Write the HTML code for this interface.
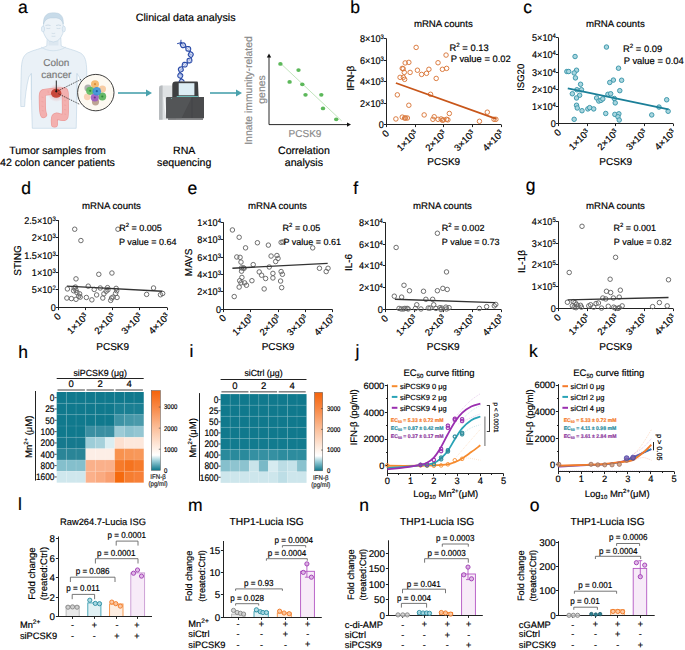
<!DOCTYPE html>
<html><head><meta charset="utf-8"><style>
html,body{margin:0;padding:0;background:#fff;}
svg{display:block;font-family:"Liberation Sans", sans-serif;text-rendering:geometricPrecision;}
</style></head><body>
<svg width="685" height="650" viewBox="0 0 685 650">
<rect width="685" height="650" fill="#fff"/>
<text x="18.00" y="12.50" font-size="17.5" text-anchor="start" fill="#000" stroke="#000" stroke-width="0.18">a</text>
<text x="350.30" y="12.50" font-size="17.5" text-anchor="start" fill="#000" stroke="#000" stroke-width="0.18">b</text>
<text x="523.30" y="12.50" font-size="17.5" text-anchor="start" fill="#000" stroke="#000" stroke-width="0.18">c</text>
<text x="21.20" y="193.50" font-size="17.5" text-anchor="start" fill="#000" stroke="#000" stroke-width="0.18">d</text>
<text x="187.50" y="193.50" font-size="17.5" text-anchor="start" fill="#000" stroke="#000" stroke-width="0.18">e</text>
<text x="353.30" y="193.50" font-size="17.5" text-anchor="start" fill="#000" stroke="#000" stroke-width="0.18">f</text>
<text x="525.80" y="190.50" font-size="17.5" text-anchor="start" fill="#000" stroke="#000" stroke-width="0.18">g</text>
<text x="18.20" y="357.50" font-size="17.5" text-anchor="start" fill="#000" stroke="#000" stroke-width="0.18">h</text>
<text x="189.60" y="357.30" font-size="17.5" text-anchor="start" fill="#000" stroke="#000" stroke-width="0.18">i</text>
<text x="355.50" y="357.30" font-size="17.5" text-anchor="start" fill="#000" stroke="#000" stroke-width="0.18">j</text>
<text x="529.00" y="357.30" font-size="17.5" text-anchor="start" fill="#000" stroke="#000" stroke-width="0.18">k</text>
<text x="18.00" y="510.30" font-size="17.5" text-anchor="start" fill="#000" stroke="#000" stroke-width="0.18">l</text>
<text x="188.00" y="510.80" font-size="17.5" text-anchor="start" fill="#000" stroke="#000" stroke-width="0.18">m</text>
<text x="359.30" y="510.80" font-size="17.5" text-anchor="start" fill="#000" stroke="#000" stroke-width="0.18">n</text>
<text x="529.80" y="510.80" font-size="17.5" text-anchor="start" fill="#000" stroke="#000" stroke-width="0.18">o</text>
<line x1="386.50" y1="38.60" x2="386.50" y2="125.00" stroke="#222" stroke-width="1"/>
<line x1="386.00" y1="124.50" x2="501.00" y2="124.50" stroke="#222" stroke-width="1"/>
<line x1="383.90" y1="38.50" x2="386.50" y2="38.50" stroke="#222" stroke-width="1"/>
<text x="0.00" y="0.00" font-size="9.8" text-anchor="end" fill="#000" stroke="#000" stroke-width="0.18" transform="translate(383.90,42.10) scale(0.93,1)">8×10<tspan font-size="6.4" dy="-3.0">3</tspan></text>
<line x1="383.90" y1="60.50" x2="386.50" y2="60.50" stroke="#222" stroke-width="1"/>
<text x="0.00" y="0.00" font-size="9.8" text-anchor="end" fill="#000" stroke="#000" stroke-width="0.18" transform="translate(383.90,63.60) scale(0.93,1)">6×10<tspan font-size="6.4" dy="-3.0">3</tspan></text>
<line x1="383.90" y1="81.50" x2="386.50" y2="81.50" stroke="#222" stroke-width="1"/>
<text x="0.00" y="0.00" font-size="9.8" text-anchor="end" fill="#000" stroke="#000" stroke-width="0.18" transform="translate(383.90,85.10) scale(0.93,1)">4×10<tspan font-size="6.4" dy="-3.0">3</tspan></text>
<line x1="383.90" y1="103.50" x2="386.50" y2="103.50" stroke="#222" stroke-width="1"/>
<text x="0.00" y="0.00" font-size="9.8" text-anchor="end" fill="#000" stroke="#000" stroke-width="0.18" transform="translate(383.90,106.60) scale(0.93,1)">2×10<tspan font-size="6.4" dy="-3.0">3</tspan></text>
<line x1="383.90" y1="124.50" x2="386.50" y2="124.50" stroke="#222" stroke-width="1"/>
<text x="0.00" y="0.00" font-size="9.8" text-anchor="end" fill="#000" stroke="#000" stroke-width="0.18" transform="translate(383.90,128.00) scale(0.93,1)">0</text>
<line x1="386.50" y1="124.50" x2="386.50" y2="127.10" stroke="#222" stroke-width="1"/>
<text x="0.00" y="0.00" font-size="9.5" text-anchor="end" fill="#000" stroke="#000" stroke-width="0.18" transform="translate(389.70,134.10) rotate(-45)">0</text>
<line x1="415.50" y1="124.50" x2="415.50" y2="127.10" stroke="#222" stroke-width="1"/>
<text x="0.00" y="0.00" font-size="9.5" text-anchor="end" fill="#000" stroke="#000" stroke-width="0.18" transform="translate(418.30,134.10) rotate(-45)">1×10<tspan font-size="6.4" dy="-3.0">3</tspan></text>
<line x1="443.50" y1="124.50" x2="443.50" y2="127.10" stroke="#222" stroke-width="1"/>
<text x="0.00" y="0.00" font-size="9.5" text-anchor="end" fill="#000" stroke="#000" stroke-width="0.18" transform="translate(446.90,134.10) rotate(-45)">2×10<tspan font-size="6.4" dy="-3.0">3</tspan></text>
<line x1="472.50" y1="124.50" x2="472.50" y2="127.10" stroke="#222" stroke-width="1"/>
<text x="0.00" y="0.00" font-size="9.5" text-anchor="end" fill="#000" stroke="#000" stroke-width="0.18" transform="translate(475.60,134.10) rotate(-45)">3×10<tspan font-size="6.4" dy="-3.0">3</tspan></text>
<line x1="501.50" y1="124.50" x2="501.50" y2="127.10" stroke="#222" stroke-width="1"/>
<text x="0.00" y="0.00" font-size="9.5" text-anchor="end" fill="#000" stroke="#000" stroke-width="0.18" transform="translate(504.20,134.10) rotate(-45)">4×10<tspan font-size="6.4" dy="-3.0">3</tspan></text>
<text x="443.30" y="26.90" font-size="9.65" text-anchor="middle" fill="#000" stroke="#000" stroke-width="0.18">mRNA counts</text>
<text x="443.75" y="164.50" font-size="10" text-anchor="middle" fill="#000" stroke="#000" stroke-width="0.18">PCSK9</text>
<text x="0.00" y="0.00" font-size="10" text-anchor="middle" fill="#000" stroke="#000" stroke-width="0.18" transform="translate(353.50,78.25) rotate(-90)">IFN-β</text>
<circle cx="416.13" cy="47.41" r="2.25" fill="none" stroke="#d9773a" stroke-width="0.95"/>
<circle cx="446.06" cy="55.07" r="2.25" fill="none" stroke="#d9773a" stroke-width="0.95"/>
<circle cx="438.03" cy="62.74" r="2.25" fill="none" stroke="#d9773a" stroke-width="0.95"/>
<circle cx="408.83" cy="62.37" r="2.25" fill="none" stroke="#d9773a" stroke-width="0.95"/>
<circle cx="405.18" cy="62.92" r="2.25" fill="none" stroke="#d9773a" stroke-width="0.95"/>
<circle cx="402.26" cy="68.39" r="2.25" fill="none" stroke="#d9773a" stroke-width="0.95"/>
<circle cx="403.18" cy="68.76" r="2.25" fill="none" stroke="#d9773a" stroke-width="0.95"/>
<circle cx="404.27" cy="72.41" r="2.25" fill="none" stroke="#d9773a" stroke-width="0.95"/>
<circle cx="410.11" cy="72.41" r="2.25" fill="none" stroke="#d9773a" stroke-width="0.95"/>
<circle cx="417.41" cy="70.22" r="2.25" fill="none" stroke="#d9773a" stroke-width="0.95"/>
<circle cx="421.61" cy="74.42" r="2.25" fill="none" stroke="#d9773a" stroke-width="0.95"/>
<circle cx="426.53" cy="73.32" r="2.25" fill="none" stroke="#d9773a" stroke-width="0.95"/>
<circle cx="428.91" cy="69.31" r="2.25" fill="none" stroke="#d9773a" stroke-width="0.95"/>
<circle cx="442.41" cy="69.31" r="2.25" fill="none" stroke="#d9773a" stroke-width="0.95"/>
<circle cx="446.61" cy="68.39" r="2.25" fill="none" stroke="#d9773a" stroke-width="0.95"/>
<circle cx="400.07" cy="77.34" r="2.25" fill="none" stroke="#d9773a" stroke-width="0.95"/>
<circle cx="403.36" cy="77.34" r="2.25" fill="none" stroke="#d9773a" stroke-width="0.95"/>
<circle cx="404.64" cy="79.34" r="2.25" fill="none" stroke="#d9773a" stroke-width="0.95"/>
<circle cx="436.20" cy="78.43" r="2.25" fill="none" stroke="#d9773a" stroke-width="0.95"/>
<circle cx="397.34" cy="94.85" r="2.25" fill="none" stroke="#d9773a" stroke-width="0.95"/>
<circle cx="430.55" cy="94.31" r="2.25" fill="none" stroke="#d9773a" stroke-width="0.95"/>
<circle cx="408.83" cy="105.26" r="2.25" fill="none" stroke="#d9773a" stroke-width="0.95"/>
<circle cx="395.88" cy="118.94" r="2.25" fill="none" stroke="#d9773a" stroke-width="0.95"/>
<circle cx="402.26" cy="117.12" r="2.25" fill="none" stroke="#d9773a" stroke-width="0.95"/>
<circle cx="404.64" cy="118.03" r="2.25" fill="none" stroke="#d9773a" stroke-width="0.95"/>
<circle cx="407.37" cy="118.03" r="2.25" fill="none" stroke="#d9773a" stroke-width="0.95"/>
<circle cx="424.16" cy="114.93" r="2.25" fill="none" stroke="#d9773a" stroke-width="0.95"/>
<circle cx="434.20" cy="116.75" r="2.25" fill="none" stroke="#d9773a" stroke-width="0.95"/>
<circle cx="432.92" cy="119.31" r="2.25" fill="none" stroke="#d9773a" stroke-width="0.95"/>
<circle cx="438.03" cy="119.31" r="2.25" fill="none" stroke="#d9773a" stroke-width="0.95"/>
<circle cx="441.13" cy="118.94" r="2.25" fill="none" stroke="#d9773a" stroke-width="0.95"/>
<circle cx="442.41" cy="120.22" r="2.25" fill="none" stroke="#d9773a" stroke-width="0.95"/>
<circle cx="443.50" cy="119.85" r="2.25" fill="none" stroke="#d9773a" stroke-width="0.95"/>
<circle cx="446.61" cy="119.31" r="2.25" fill="none" stroke="#d9773a" stroke-width="0.95"/>
<circle cx="447.88" cy="119.85" r="2.25" fill="none" stroke="#d9773a" stroke-width="0.95"/>
<circle cx="449.34" cy="113.47" r="2.25" fill="none" stroke="#d9773a" stroke-width="0.95"/>
<circle cx="479.45" cy="121.31" r="2.25" fill="none" stroke="#d9773a" stroke-width="0.95"/>
<circle cx="487.30" cy="112.19" r="2.25" fill="none" stroke="#d9773a" stroke-width="0.95"/>
<circle cx="494.05" cy="119.31" r="2.25" fill="none" stroke="#d9773a" stroke-width="0.95"/>
<circle cx="495.88" cy="119.31" r="2.25" fill="none" stroke="#d9773a" stroke-width="0.95"/>
<circle cx="405.55" cy="118.03" r="2.25" fill="none" stroke="#d9773a" stroke-width="0.95"/>
<line x1="395.88" y1="82.99" x2="496.24" y2="118.94" stroke="#c8561a" stroke-width="1.8"/>
<text x="449.50" y="51.40" font-size="9.4" text-anchor="start" fill="#000" stroke="#000" stroke-width="0.18">R<tspan font-size="6.204000000000001" dy="-3.948">2</tspan><tspan dy="3.95"> = 0.13</tspan></text>
<text x="450.70" y="62.20" font-size="9.4" text-anchor="start" fill="#000" stroke="#000" stroke-width="0.18">P value = 0.02</text>
<line x1="558.50" y1="37.70" x2="558.50" y2="124.00" stroke="#222" stroke-width="1"/>
<line x1="558.00" y1="123.50" x2="673.00" y2="123.50" stroke="#222" stroke-width="1"/>
<line x1="555.90" y1="37.50" x2="558.50" y2="37.50" stroke="#222" stroke-width="1"/>
<text x="0.00" y="0.00" font-size="9.8" text-anchor="end" fill="#000" stroke="#000" stroke-width="0.18" transform="translate(555.90,41.20) scale(0.93,1)">5×10<tspan font-size="6.4" dy="-3.0">4</tspan></text>
<line x1="555.90" y1="54.50" x2="558.50" y2="54.50" stroke="#222" stroke-width="1"/>
<text x="0.00" y="0.00" font-size="9.8" text-anchor="end" fill="#000" stroke="#000" stroke-width="0.18" transform="translate(555.90,58.40) scale(0.93,1)">4×10<tspan font-size="6.4" dy="-3.0">4</tspan></text>
<line x1="555.90" y1="72.50" x2="558.50" y2="72.50" stroke="#222" stroke-width="1"/>
<text x="0.00" y="0.00" font-size="9.8" text-anchor="end" fill="#000" stroke="#000" stroke-width="0.18" transform="translate(555.90,75.60) scale(0.93,1)">3×10<tspan font-size="6.4" dy="-3.0">4</tspan></text>
<line x1="555.90" y1="89.50" x2="558.50" y2="89.50" stroke="#222" stroke-width="1"/>
<text x="0.00" y="0.00" font-size="9.8" text-anchor="end" fill="#000" stroke="#000" stroke-width="0.18" transform="translate(555.90,92.80) scale(0.93,1)">2×10<tspan font-size="6.4" dy="-3.0">4</tspan></text>
<line x1="555.90" y1="106.50" x2="558.50" y2="106.50" stroke="#222" stroke-width="1"/>
<text x="0.00" y="0.00" font-size="9.8" text-anchor="end" fill="#000" stroke="#000" stroke-width="0.18" transform="translate(555.90,109.90) scale(0.93,1)">1×10<tspan font-size="6.4" dy="-3.0">4</tspan></text>
<line x1="555.90" y1="123.50" x2="558.50" y2="123.50" stroke="#222" stroke-width="1"/>
<text x="0.00" y="0.00" font-size="9.8" text-anchor="end" fill="#000" stroke="#000" stroke-width="0.18" transform="translate(555.90,127.00) scale(0.93,1)">0</text>
<line x1="558.50" y1="123.50" x2="558.50" y2="126.10" stroke="#222" stroke-width="1"/>
<text x="0.00" y="0.00" font-size="9.5" text-anchor="end" fill="#000" stroke="#000" stroke-width="0.18" transform="translate(561.70,133.10) rotate(-45)">0</text>
<line x1="587.50" y1="123.50" x2="587.50" y2="126.10" stroke="#222" stroke-width="1"/>
<text x="0.00" y="0.00" font-size="9.5" text-anchor="end" fill="#000" stroke="#000" stroke-width="0.18" transform="translate(590.30,133.10) rotate(-45)">1×10<tspan font-size="6.4" dy="-3.0">3</tspan></text>
<line x1="615.50" y1="123.50" x2="615.50" y2="126.10" stroke="#222" stroke-width="1"/>
<text x="0.00" y="0.00" font-size="9.5" text-anchor="end" fill="#000" stroke="#000" stroke-width="0.18" transform="translate(618.90,133.10) rotate(-45)">2×10<tspan font-size="6.4" dy="-3.0">3</tspan></text>
<line x1="644.50" y1="123.50" x2="644.50" y2="126.10" stroke="#222" stroke-width="1"/>
<text x="0.00" y="0.00" font-size="9.5" text-anchor="end" fill="#000" stroke="#000" stroke-width="0.18" transform="translate(647.60,133.10) rotate(-45)">3×10<tspan font-size="6.4" dy="-3.0">3</tspan></text>
<line x1="673.50" y1="123.50" x2="673.50" y2="126.10" stroke="#222" stroke-width="1"/>
<text x="0.00" y="0.00" font-size="9.5" text-anchor="end" fill="#000" stroke="#000" stroke-width="0.18" transform="translate(676.20,133.10) rotate(-45)">4×10<tspan font-size="6.4" dy="-3.0">3</tspan></text>
<text x="615.30" y="26.90" font-size="9.65" text-anchor="middle" fill="#000" stroke="#000" stroke-width="0.18">mRNA counts</text>
<text x="615.75" y="164.50" font-size="10" text-anchor="middle" fill="#000" stroke="#000" stroke-width="0.18">PCSK9</text>
<text x="0.00" y="0.00" font-size="9.5" text-anchor="middle" fill="#000" stroke="#000" stroke-width="0.18" transform="translate(524.30,77.30) rotate(-90)">ISG20</text>
<circle cx="606.46" cy="47.04" r="2.25" fill="#a9d6df" stroke="#3a96aa" stroke-width="0.95"/>
<circle cx="575.07" cy="56.53" r="2.25" fill="#a9d6df" stroke="#3a96aa" stroke-width="0.95"/>
<circle cx="618.50" cy="68.21" r="2.25" fill="#a9d6df" stroke="#3a96aa" stroke-width="0.95"/>
<circle cx="566.86" cy="71.50" r="2.25" fill="#a9d6df" stroke="#3a96aa" stroke-width="0.95"/>
<circle cx="568.69" cy="71.50" r="2.25" fill="#a9d6df" stroke="#3a96aa" stroke-width="0.95"/>
<circle cx="576.53" cy="70.22" r="2.25" fill="#a9d6df" stroke="#3a96aa" stroke-width="0.95"/>
<circle cx="574.16" cy="72.96" r="2.25" fill="#a9d6df" stroke="#3a96aa" stroke-width="0.95"/>
<circle cx="575.44" cy="77.88" r="2.25" fill="#a9d6df" stroke="#3a96aa" stroke-width="0.95"/>
<circle cx="613.39" cy="80.07" r="2.25" fill="#a9d6df" stroke="#3a96aa" stroke-width="0.95"/>
<circle cx="609.74" cy="82.45" r="2.25" fill="#a9d6df" stroke="#3a96aa" stroke-width="0.95"/>
<circle cx="621.61" cy="80.26" r="2.25" fill="#a9d6df" stroke="#3a96aa" stroke-width="0.95"/>
<circle cx="580.55" cy="84.27" r="2.25" fill="#a9d6df" stroke="#3a96aa" stroke-width="0.95"/>
<circle cx="572.34" cy="93.76" r="2.25" fill="#a9d6df" stroke="#3a96aa" stroke-width="0.95"/>
<circle cx="576.90" cy="89.74" r="2.25" fill="#a9d6df" stroke="#3a96aa" stroke-width="0.95"/>
<circle cx="581.46" cy="89.74" r="2.25" fill="#a9d6df" stroke="#3a96aa" stroke-width="0.95"/>
<circle cx="579.64" cy="95.22" r="2.25" fill="#a9d6df" stroke="#3a96aa" stroke-width="0.95"/>
<circle cx="576.53" cy="97.96" r="2.25" fill="#a9d6df" stroke="#3a96aa" stroke-width="0.95"/>
<circle cx="619.78" cy="90.66" r="2.25" fill="#a9d6df" stroke="#3a96aa" stroke-width="0.95"/>
<circle cx="607.92" cy="94.31" r="2.25" fill="#a9d6df" stroke="#3a96aa" stroke-width="0.95"/>
<circle cx="610.66" cy="93.76" r="2.25" fill="#a9d6df" stroke="#3a96aa" stroke-width="0.95"/>
<circle cx="596.61" cy="97.96" r="2.25" fill="#a9d6df" stroke="#3a96aa" stroke-width="0.95"/>
<circle cx="598.80" cy="101.06" r="2.25" fill="#a9d6df" stroke="#3a96aa" stroke-width="0.95"/>
<circle cx="600.99" cy="100.33" r="2.25" fill="#a9d6df" stroke="#3a96aa" stroke-width="0.95"/>
<circle cx="602.81" cy="98.87" r="2.25" fill="#a9d6df" stroke="#3a96aa" stroke-width="0.95"/>
<circle cx="614.31" cy="98.50" r="2.25" fill="#a9d6df" stroke="#3a96aa" stroke-width="0.95"/>
<circle cx="615.22" cy="102.88" r="2.25" fill="#a9d6df" stroke="#3a96aa" stroke-width="0.95"/>
<circle cx="576.53" cy="105.26" r="2.25" fill="#a9d6df" stroke="#3a96aa" stroke-width="0.95"/>
<circle cx="577.26" cy="107.99" r="2.25" fill="#a9d6df" stroke="#3a96aa" stroke-width="0.95"/>
<circle cx="582.01" cy="110.73" r="2.25" fill="#a9d6df" stroke="#3a96aa" stroke-width="0.95"/>
<circle cx="587.85" cy="108.91" r="2.25" fill="#a9d6df" stroke="#3a96aa" stroke-width="0.95"/>
<circle cx="589.67" cy="107.63" r="2.25" fill="#a9d6df" stroke="#3a96aa" stroke-width="0.95"/>
<circle cx="593.69" cy="108.91" r="2.25" fill="#a9d6df" stroke="#3a96aa" stroke-width="0.95"/>
<circle cx="605.73" cy="113.47" r="2.25" fill="#a9d6df" stroke="#3a96aa" stroke-width="0.95"/>
<circle cx="614.85" cy="114.38" r="2.25" fill="#a9d6df" stroke="#3a96aa" stroke-width="0.95"/>
<circle cx="618.87" cy="113.83" r="2.25" fill="#a9d6df" stroke="#3a96aa" stroke-width="0.95"/>
<circle cx="617.96" cy="116.75" r="2.25" fill="#a9d6df" stroke="#3a96aa" stroke-width="0.95"/>
<circle cx="619.23" cy="120.04" r="2.25" fill="#a9d6df" stroke="#3a96aa" stroke-width="0.95"/>
<circle cx="574.16" cy="119.31" r="2.25" fill="#a9d6df" stroke="#3a96aa" stroke-width="0.95"/>
<circle cx="651.72" cy="114.93" r="2.25" fill="#a9d6df" stroke="#3a96aa" stroke-width="0.95"/>
<circle cx="659.01" cy="107.08" r="2.25" fill="#a9d6df" stroke="#3a96aa" stroke-width="0.95"/>
<circle cx="666.68" cy="99.78" r="2.25" fill="#a9d6df" stroke="#3a96aa" stroke-width="0.95"/>
<circle cx="668.14" cy="111.28" r="2.25" fill="#a9d6df" stroke="#3a96aa" stroke-width="0.95"/>
<line x1="567.77" y1="88.28" x2="668.50" y2="109.45" stroke="#1b7f98" stroke-width="1.8"/>
<text x="623.00" y="51.60" font-size="9.4" text-anchor="start" fill="#000" stroke="#000" stroke-width="0.18">R<tspan font-size="6.204000000000001" dy="-3.948">2</tspan><tspan dy="3.95"> = 0.09</tspan></text>
<text x="623.70" y="63.80" font-size="9.4" text-anchor="start" fill="#000" stroke="#000" stroke-width="0.18">P value = 0.04</text>
<line x1="58.50" y1="220.10" x2="58.50" y2="308.00" stroke="#222" stroke-width="1"/>
<line x1="58.00" y1="307.50" x2="167.00" y2="307.50" stroke="#222" stroke-width="1"/>
<line x1="55.90" y1="220.50" x2="58.50" y2="220.50" stroke="#222" stroke-width="1"/>
<text x="0.00" y="0.00" font-size="9.8" text-anchor="end" fill="#000" stroke="#000" stroke-width="0.18" transform="translate(55.70,223.60) scale(0.93,1)">2.5×10<tspan font-size="6.4" dy="-3.0">3</tspan></text>
<line x1="55.90" y1="237.50" x2="58.50" y2="237.50" stroke="#222" stroke-width="1"/>
<text x="0.00" y="0.00" font-size="9.8" text-anchor="end" fill="#000" stroke="#000" stroke-width="0.18" transform="translate(55.70,241.00) scale(0.93,1)">2×10<tspan font-size="6.4" dy="-3.0">3</tspan></text>
<line x1="55.90" y1="255.50" x2="58.50" y2="255.50" stroke="#222" stroke-width="1"/>
<text x="0.00" y="0.00" font-size="9.8" text-anchor="end" fill="#000" stroke="#000" stroke-width="0.18" transform="translate(55.70,258.50) scale(0.93,1)">1.5×10<tspan font-size="6.4" dy="-3.0">3</tspan></text>
<line x1="55.90" y1="272.50" x2="58.50" y2="272.50" stroke="#222" stroke-width="1"/>
<text x="0.00" y="0.00" font-size="9.8" text-anchor="end" fill="#000" stroke="#000" stroke-width="0.18" transform="translate(55.70,275.90) scale(0.93,1)">1×10<tspan font-size="6.4" dy="-3.0">3</tspan></text>
<line x1="55.90" y1="289.50" x2="58.50" y2="289.50" stroke="#222" stroke-width="1"/>
<text x="0.00" y="0.00" font-size="9.8" text-anchor="end" fill="#000" stroke="#000" stroke-width="0.18" transform="translate(55.70,293.40) scale(0.93,1)">5×10<tspan font-size="6.4" dy="-3.0">2</tspan></text>
<line x1="55.90" y1="307.50" x2="58.50" y2="307.50" stroke="#222" stroke-width="1"/>
<text x="0.00" y="0.00" font-size="9.8" text-anchor="end" fill="#000" stroke="#000" stroke-width="0.18" transform="translate(55.70,310.90) scale(0.93,1)">0</text>
<line x1="58.50" y1="307.50" x2="58.50" y2="310.10" stroke="#222" stroke-width="1"/>
<text x="0.00" y="0.00" font-size="9.5" text-anchor="end" fill="#000" stroke="#000" stroke-width="0.18" transform="translate(61.50,317.00) rotate(-45)">0</text>
<line x1="85.50" y1="307.50" x2="85.50" y2="310.10" stroke="#222" stroke-width="1"/>
<text x="0.00" y="0.00" font-size="9.5" text-anchor="end" fill="#000" stroke="#000" stroke-width="0.18" transform="translate(88.70,317.00) rotate(-45)">1×10<tspan font-size="6.4" dy="-3.0">3</tspan></text>
<line x1="112.50" y1="307.50" x2="112.50" y2="310.10" stroke="#222" stroke-width="1"/>
<text x="0.00" y="0.00" font-size="9.5" text-anchor="end" fill="#000" stroke="#000" stroke-width="0.18" transform="translate(115.80,317.00) rotate(-45)">2×10<tspan font-size="6.4" dy="-3.0">3</tspan></text>
<line x1="139.50" y1="307.50" x2="139.50" y2="310.10" stroke="#222" stroke-width="1"/>
<text x="0.00" y="0.00" font-size="9.5" text-anchor="end" fill="#000" stroke="#000" stroke-width="0.18" transform="translate(143.00,317.00) rotate(-45)">3×10<tspan font-size="6.4" dy="-3.0">3</tspan></text>
<line x1="167.50" y1="307.50" x2="167.50" y2="310.10" stroke="#222" stroke-width="1"/>
<text x="0.00" y="0.00" font-size="9.5" text-anchor="end" fill="#000" stroke="#000" stroke-width="0.18" transform="translate(170.20,317.00) rotate(-45)">4×10<tspan font-size="6.4" dy="-3.0">3</tspan></text>
<text x="111.50" y="209.20" font-size="9.65" text-anchor="middle" fill="#000" stroke="#000" stroke-width="0.18">mRNA counts</text>
<text x="112.65" y="350.00" font-size="10" text-anchor="middle" fill="#000" stroke="#000" stroke-width="0.18">PCSK9</text>
<text x="0.00" y="0.00" font-size="10" text-anchor="middle" fill="#000" stroke="#000" stroke-width="0.18" transform="translate(20.60,260.45) rotate(-90)">STING</text>
<circle cx="74.71" cy="229.23" r="2.25" fill="none" stroke="#666" stroke-width="0.95"/>
<circle cx="80.91" cy="240.55" r="2.25" fill="none" stroke="#666" stroke-width="0.95"/>
<circle cx="117.96" cy="229.23" r="2.25" fill="none" stroke="#666" stroke-width="0.95"/>
<circle cx="98.80" cy="274.31" r="2.25" fill="none" stroke="#666" stroke-width="0.95"/>
<circle cx="111.93" cy="273.03" r="2.25" fill="none" stroke="#666" stroke-width="0.95"/>
<circle cx="75.99" cy="278.87" r="2.25" fill="none" stroke="#666" stroke-width="0.95"/>
<circle cx="67.41" cy="288.91" r="2.25" fill="none" stroke="#666" stroke-width="0.95"/>
<circle cx="74.16" cy="287.99" r="2.25" fill="none" stroke="#666" stroke-width="0.95"/>
<circle cx="75.44" cy="287.08" r="2.25" fill="none" stroke="#666" stroke-width="0.95"/>
<circle cx="73.61" cy="290.73" r="2.25" fill="none" stroke="#666" stroke-width="0.95"/>
<circle cx="75.99" cy="290.18" r="2.25" fill="none" stroke="#666" stroke-width="0.95"/>
<circle cx="76.90" cy="292.55" r="2.25" fill="none" stroke="#666" stroke-width="0.95"/>
<circle cx="79.64" cy="293.83" r="2.25" fill="none" stroke="#666" stroke-width="0.95"/>
<circle cx="78.72" cy="296.20" r="2.25" fill="none" stroke="#666" stroke-width="0.95"/>
<circle cx="80.18" cy="297.12" r="2.25" fill="none" stroke="#666" stroke-width="0.95"/>
<circle cx="88.21" cy="286.17" r="2.25" fill="none" stroke="#666" stroke-width="0.95"/>
<circle cx="94.23" cy="289.45" r="2.25" fill="none" stroke="#666" stroke-width="0.95"/>
<circle cx="100.26" cy="287.99" r="2.25" fill="none" stroke="#666" stroke-width="0.95"/>
<circle cx="107.55" cy="287.63" r="2.25" fill="none" stroke="#666" stroke-width="0.95"/>
<circle cx="116.13" cy="288.36" r="2.25" fill="none" stroke="#666" stroke-width="0.95"/>
<circle cx="116.68" cy="290.73" r="2.25" fill="none" stroke="#666" stroke-width="0.95"/>
<circle cx="107.92" cy="289.82" r="2.25" fill="none" stroke="#666" stroke-width="0.95"/>
<circle cx="106.09" cy="291.28" r="2.25" fill="none" stroke="#666" stroke-width="0.95"/>
<circle cx="103.91" cy="293.83" r="2.25" fill="none" stroke="#666" stroke-width="0.95"/>
<circle cx="96.61" cy="294.93" r="2.25" fill="none" stroke="#666" stroke-width="0.95"/>
<circle cx="66.86" cy="298.03" r="2.25" fill="none" stroke="#666" stroke-width="0.95"/>
<circle cx="71.42" cy="298.58" r="2.25" fill="none" stroke="#666" stroke-width="0.95"/>
<circle cx="75.99" cy="299.31" r="2.25" fill="none" stroke="#666" stroke-width="0.95"/>
<circle cx="86.39" cy="297.48" r="2.25" fill="none" stroke="#666" stroke-width="0.95"/>
<circle cx="91.86" cy="299.85" r="2.25" fill="none" stroke="#666" stroke-width="0.95"/>
<circle cx="102.81" cy="298.03" r="2.25" fill="none" stroke="#666" stroke-width="0.95"/>
<circle cx="110.66" cy="300.40" r="2.25" fill="none" stroke="#666" stroke-width="0.95"/>
<circle cx="111.57" cy="298.03" r="2.25" fill="none" stroke="#666" stroke-width="0.95"/>
<circle cx="113.03" cy="297.12" r="2.25" fill="none" stroke="#666" stroke-width="0.95"/>
<circle cx="115.58" cy="293.47" r="2.25" fill="none" stroke="#666" stroke-width="0.95"/>
<circle cx="117.04" cy="297.48" r="2.25" fill="none" stroke="#666" stroke-width="0.95"/>
<circle cx="146.61" cy="294.38" r="2.25" fill="none" stroke="#666" stroke-width="0.95"/>
<circle cx="153.54" cy="287.99" r="2.25" fill="none" stroke="#666" stroke-width="0.95"/>
<circle cx="160.47" cy="294.74" r="2.25" fill="none" stroke="#666" stroke-width="0.95"/>
<circle cx="162.66" cy="293.47" r="2.25" fill="none" stroke="#666" stroke-width="0.95"/>
<line x1="66.86" y1="286.17" x2="162.30" y2="291.28" stroke="#333" stroke-width="1.4"/>
<text x="119.20" y="230.70" font-size="9.0" text-anchor="start" fill="#000" stroke="#000" stroke-width="0.18">R<tspan font-size="5.94" dy="-3.78">2</tspan><tspan dy="3.78"> = 0.005</tspan></text>
<text x="119.00" y="245.30" font-size="9.0" text-anchor="start" fill="#000" stroke="#000" stroke-width="0.18">P value = 0.64</text>
<line x1="223.50" y1="222.30" x2="223.50" y2="310.00" stroke="#222" stroke-width="1"/>
<line x1="223.00" y1="309.50" x2="332.50" y2="309.50" stroke="#222" stroke-width="1"/>
<line x1="220.90" y1="222.50" x2="223.50" y2="222.50" stroke="#222" stroke-width="1"/>
<text x="0.00" y="0.00" font-size="9.8" text-anchor="end" fill="#000" stroke="#000" stroke-width="0.18" transform="translate(221.00,225.80) scale(0.93,1)">1×10<tspan font-size="6.4" dy="-3.0">4</tspan></text>
<line x1="220.90" y1="239.50" x2="223.50" y2="239.50" stroke="#222" stroke-width="1"/>
<text x="0.00" y="0.00" font-size="9.8" text-anchor="end" fill="#000" stroke="#000" stroke-width="0.18" transform="translate(221.00,243.10) scale(0.93,1)">8×10<tspan font-size="6.4" dy="-3.0">3</tspan></text>
<line x1="220.90" y1="257.50" x2="223.50" y2="257.50" stroke="#222" stroke-width="1"/>
<text x="0.00" y="0.00" font-size="9.8" text-anchor="end" fill="#000" stroke="#000" stroke-width="0.18" transform="translate(221.00,260.50) scale(0.93,1)">6×10<tspan font-size="6.4" dy="-3.0">3</tspan></text>
<line x1="220.90" y1="274.50" x2="223.50" y2="274.50" stroke="#222" stroke-width="1"/>
<text x="0.00" y="0.00" font-size="9.8" text-anchor="end" fill="#000" stroke="#000" stroke-width="0.18" transform="translate(221.00,277.80) scale(0.93,1)">4×10<tspan font-size="6.4" dy="-3.0">3</tspan></text>
<line x1="220.90" y1="291.50" x2="223.50" y2="291.50" stroke="#222" stroke-width="1"/>
<text x="0.00" y="0.00" font-size="9.8" text-anchor="end" fill="#000" stroke="#000" stroke-width="0.18" transform="translate(221.00,295.20) scale(0.93,1)">2×10<tspan font-size="6.4" dy="-3.0">3</tspan></text>
<line x1="220.90" y1="309.50" x2="223.50" y2="309.50" stroke="#222" stroke-width="1"/>
<text x="0.00" y="0.00" font-size="9.8" text-anchor="end" fill="#000" stroke="#000" stroke-width="0.18" transform="translate(221.00,312.50) scale(0.93,1)">0</text>
<line x1="223.50" y1="309.50" x2="223.50" y2="312.10" stroke="#222" stroke-width="1"/>
<text x="0.00" y="0.00" font-size="9.5" text-anchor="end" fill="#000" stroke="#000" stroke-width="0.18" transform="translate(226.80,318.60) rotate(-45)">0</text>
<line x1="250.50" y1="309.50" x2="250.50" y2="312.10" stroke="#222" stroke-width="1"/>
<text x="0.00" y="0.00" font-size="9.5" text-anchor="end" fill="#000" stroke="#000" stroke-width="0.18" transform="translate(254.00,318.60) rotate(-45)">1×10<tspan font-size="6.4" dy="-3.0">3</tspan></text>
<line x1="278.50" y1="309.50" x2="278.50" y2="312.10" stroke="#222" stroke-width="1"/>
<text x="0.00" y="0.00" font-size="9.5" text-anchor="end" fill="#000" stroke="#000" stroke-width="0.18" transform="translate(281.20,318.60) rotate(-45)">2×10<tspan font-size="6.4" dy="-3.0">3</tspan></text>
<line x1="305.50" y1="309.50" x2="305.50" y2="312.10" stroke="#222" stroke-width="1"/>
<text x="0.00" y="0.00" font-size="9.5" text-anchor="end" fill="#000" stroke="#000" stroke-width="0.18" transform="translate(308.50,318.60) rotate(-45)">3×10<tspan font-size="6.4" dy="-3.0">3</tspan></text>
<line x1="332.50" y1="309.50" x2="332.50" y2="312.10" stroke="#222" stroke-width="1"/>
<text x="0.00" y="0.00" font-size="9.5" text-anchor="end" fill="#000" stroke="#000" stroke-width="0.18" transform="translate(335.70,318.60) rotate(-45)">4×10<tspan font-size="6.4" dy="-3.0">3</tspan></text>
<text x="277.50" y="209.20" font-size="9.65" text-anchor="middle" fill="#000" stroke="#000" stroke-width="0.18">mRNA counts</text>
<text x="278.05" y="350.00" font-size="10" text-anchor="middle" fill="#000" stroke="#000" stroke-width="0.18">PCSK9</text>
<text x="0.00" y="0.00" font-size="10" text-anchor="middle" fill="#000" stroke="#000" stroke-width="0.18" transform="translate(192.00,262.35) rotate(-90)">MAVS</text>
<circle cx="232.41" cy="229.96" r="2.25" fill="none" stroke="#666" stroke-width="0.95"/>
<circle cx="239.16" cy="237.26" r="2.25" fill="none" stroke="#666" stroke-width="0.95"/>
<circle cx="257.41" cy="242.74" r="2.25" fill="none" stroke="#666" stroke-width="0.95"/>
<circle cx="268.36" cy="245.11" r="2.25" fill="none" stroke="#666" stroke-width="0.95"/>
<circle cx="245.55" cy="247.85" r="2.25" fill="none" stroke="#666" stroke-width="0.95"/>
<circle cx="281.13" cy="242.37" r="2.25" fill="none" stroke="#666" stroke-width="0.95"/>
<circle cx="282.96" cy="242.01" r="2.25" fill="none" stroke="#666" stroke-width="0.95"/>
<circle cx="312.70" cy="247.85" r="2.25" fill="none" stroke="#666" stroke-width="0.95"/>
<circle cx="236.79" cy="256.97" r="2.25" fill="none" stroke="#666" stroke-width="0.95"/>
<circle cx="240.07" cy="257.34" r="2.25" fill="none" stroke="#666" stroke-width="0.95"/>
<circle cx="240.99" cy="262.08" r="2.25" fill="none" stroke="#666" stroke-width="0.95"/>
<circle cx="271.09" cy="256.06" r="2.25" fill="none" stroke="#666" stroke-width="0.95"/>
<circle cx="276.93" cy="255.51" r="2.25" fill="none" stroke="#666" stroke-width="0.95"/>
<circle cx="278.03" cy="258.43" r="2.25" fill="none" stroke="#666" stroke-width="0.95"/>
<circle cx="275.66" cy="261.53" r="2.25" fill="none" stroke="#666" stroke-width="0.95"/>
<circle cx="253.21" cy="264.64" r="2.25" fill="none" stroke="#666" stroke-width="0.95"/>
<circle cx="241.53" cy="267.92" r="2.25" fill="none" stroke="#666" stroke-width="0.95"/>
<circle cx="243.36" cy="267.92" r="2.25" fill="none" stroke="#666" stroke-width="0.95"/>
<circle cx="244.09" cy="268.28" r="2.25" fill="none" stroke="#666" stroke-width="0.95"/>
<circle cx="241.53" cy="271.20" r="2.25" fill="none" stroke="#666" stroke-width="0.95"/>
<circle cx="269.27" cy="267.01" r="2.25" fill="none" stroke="#666" stroke-width="0.95"/>
<circle cx="259.23" cy="271.93" r="2.25" fill="none" stroke="#666" stroke-width="0.95"/>
<circle cx="272.92" cy="273.39" r="2.25" fill="none" stroke="#666" stroke-width="0.95"/>
<circle cx="281.13" cy="271.57" r="2.25" fill="none" stroke="#666" stroke-width="0.95"/>
<circle cx="282.41" cy="274.31" r="2.25" fill="none" stroke="#666" stroke-width="0.95"/>
<circle cx="261.61" cy="275.22" r="2.25" fill="none" stroke="#666" stroke-width="0.95"/>
<circle cx="241.90" cy="277.41" r="2.25" fill="none" stroke="#666" stroke-width="0.95"/>
<circle cx="265.62" cy="278.50" r="2.25" fill="none" stroke="#666" stroke-width="0.95"/>
<circle cx="272.92" cy="277.96" r="2.25" fill="none" stroke="#666" stroke-width="0.95"/>
<circle cx="239.71" cy="280.69" r="2.25" fill="none" stroke="#666" stroke-width="0.95"/>
<circle cx="240.99" cy="282.88" r="2.25" fill="none" stroke="#666" stroke-width="0.95"/>
<circle cx="244.64" cy="282.88" r="2.25" fill="none" stroke="#666" stroke-width="0.95"/>
<circle cx="246.46" cy="285.26" r="2.25" fill="none" stroke="#666" stroke-width="0.95"/>
<circle cx="251.93" cy="280.69" r="2.25" fill="none" stroke="#666" stroke-width="0.95"/>
<circle cx="280.58" cy="281.06" r="2.25" fill="none" stroke="#666" stroke-width="0.95"/>
<circle cx="239.16" cy="287.08" r="2.25" fill="none" stroke="#666" stroke-width="0.95"/>
<circle cx="281.68" cy="287.63" r="2.25" fill="none" stroke="#666" stroke-width="0.95"/>
<circle cx="264.16" cy="288.91" r="2.25" fill="none" stroke="#666" stroke-width="0.95"/>
<circle cx="234.23" cy="296.57" r="2.25" fill="none" stroke="#666" stroke-width="0.95"/>
<circle cx="319.45" cy="268.28" r="2.25" fill="none" stroke="#666" stroke-width="0.95"/>
<circle cx="328.03" cy="268.28" r="2.25" fill="none" stroke="#666" stroke-width="0.95"/>
<circle cx="326.20" cy="271.57" r="2.25" fill="none" stroke="#666" stroke-width="0.95"/>
<line x1="232.41" y1="268.28" x2="327.66" y2="263.36" stroke="#333" stroke-width="1.4"/>
<text x="282.60" y="230.50" font-size="9.0" text-anchor="start" fill="#000" stroke="#000" stroke-width="0.18">R<tspan font-size="5.94" dy="-3.78">2</tspan><tspan dy="3.78"> = 0.05</tspan></text>
<text x="283.50" y="245.10" font-size="9.0" text-anchor="start" fill="#000" stroke="#000" stroke-width="0.18">P value = 0.61</text>
<line x1="385.50" y1="222.30" x2="385.50" y2="310.00" stroke="#222" stroke-width="1"/>
<line x1="385.00" y1="309.50" x2="501.00" y2="309.50" stroke="#222" stroke-width="1"/>
<line x1="382.90" y1="222.50" x2="385.50" y2="222.50" stroke="#222" stroke-width="1"/>
<text x="0.00" y="0.00" font-size="9.8" text-anchor="end" fill="#000" stroke="#000" stroke-width="0.18" transform="translate(382.90,225.80) scale(0.93,1)">8×10<tspan font-size="6.4" dy="-3.0">4</tspan></text>
<line x1="382.90" y1="244.50" x2="385.50" y2="244.50" stroke="#222" stroke-width="1"/>
<text x="0.00" y="0.00" font-size="9.8" text-anchor="end" fill="#000" stroke="#000" stroke-width="0.18" transform="translate(382.90,247.50) scale(0.93,1)">6×10<tspan font-size="6.4" dy="-3.0">4</tspan></text>
<line x1="382.90" y1="265.50" x2="385.50" y2="265.50" stroke="#222" stroke-width="1"/>
<text x="0.00" y="0.00" font-size="9.8" text-anchor="end" fill="#000" stroke="#000" stroke-width="0.18" transform="translate(382.90,269.30) scale(0.93,1)">4×10<tspan font-size="6.4" dy="-3.0">4</tspan></text>
<line x1="382.90" y1="287.50" x2="385.50" y2="287.50" stroke="#222" stroke-width="1"/>
<text x="0.00" y="0.00" font-size="9.8" text-anchor="end" fill="#000" stroke="#000" stroke-width="0.18" transform="translate(382.90,291.00) scale(0.93,1)">2×10<tspan font-size="6.4" dy="-3.0">4</tspan></text>
<line x1="382.90" y1="309.50" x2="385.50" y2="309.50" stroke="#222" stroke-width="1"/>
<text x="0.00" y="0.00" font-size="9.8" text-anchor="end" fill="#000" stroke="#000" stroke-width="0.18" transform="translate(382.90,312.80) scale(0.93,1)">0</text>
<line x1="385.50" y1="309.50" x2="385.50" y2="312.10" stroke="#222" stroke-width="1"/>
<text x="0.00" y="0.00" font-size="9.5" text-anchor="end" fill="#000" stroke="#000" stroke-width="0.18" transform="translate(388.70,318.90) rotate(-45)">0</text>
<line x1="414.50" y1="309.50" x2="414.50" y2="312.10" stroke="#222" stroke-width="1"/>
<text x="0.00" y="0.00" font-size="9.5" text-anchor="end" fill="#000" stroke="#000" stroke-width="0.18" transform="translate(417.60,318.90) rotate(-45)">1×10<tspan font-size="6.4" dy="-3.0">3</tspan></text>
<line x1="443.50" y1="309.50" x2="443.50" y2="312.10" stroke="#222" stroke-width="1"/>
<text x="0.00" y="0.00" font-size="9.5" text-anchor="end" fill="#000" stroke="#000" stroke-width="0.18" transform="translate(446.50,318.90) rotate(-45)">2×10<tspan font-size="6.4" dy="-3.0">3</tspan></text>
<line x1="472.50" y1="309.50" x2="472.50" y2="312.10" stroke="#222" stroke-width="1"/>
<text x="0.00" y="0.00" font-size="9.5" text-anchor="end" fill="#000" stroke="#000" stroke-width="0.18" transform="translate(475.30,318.90) rotate(-45)">3×10<tspan font-size="6.4" dy="-3.0">3</tspan></text>
<line x1="501.50" y1="309.50" x2="501.50" y2="312.10" stroke="#222" stroke-width="1"/>
<text x="0.00" y="0.00" font-size="9.5" text-anchor="end" fill="#000" stroke="#000" stroke-width="0.18" transform="translate(504.20,318.90) rotate(-45)">4×10<tspan font-size="6.4" dy="-3.0">3</tspan></text>
<text x="442.50" y="209.20" font-size="9.65" text-anchor="middle" fill="#000" stroke="#000" stroke-width="0.18">mRNA counts</text>
<text x="443.25" y="350.00" font-size="10" text-anchor="middle" fill="#000" stroke="#000" stroke-width="0.18">PCSK9</text>
<text x="0.00" y="0.00" font-size="10" text-anchor="middle" fill="#000" stroke="#000" stroke-width="0.18" transform="translate(352.00,262.50) rotate(-90)">IL-6</text>
<circle cx="437.38" cy="233.25" r="2.25" fill="none" stroke="#666" stroke-width="0.95"/>
<circle cx="396.14" cy="247.48" r="2.25" fill="none" stroke="#666" stroke-width="0.95"/>
<circle cx="446.50" cy="271.93" r="2.25" fill="none" stroke="#666" stroke-width="0.95"/>
<circle cx="403.99" cy="285.26" r="2.25" fill="none" stroke="#666" stroke-width="0.95"/>
<circle cx="409.46" cy="290.73" r="2.25" fill="none" stroke="#666" stroke-width="0.95"/>
<circle cx="423.51" cy="291.28" r="2.25" fill="none" stroke="#666" stroke-width="0.95"/>
<circle cx="437.38" cy="290.73" r="2.25" fill="none" stroke="#666" stroke-width="0.95"/>
<circle cx="442.85" cy="288.36" r="2.25" fill="none" stroke="#666" stroke-width="0.95"/>
<circle cx="447.23" cy="289.45" r="2.25" fill="none" stroke="#666" stroke-width="0.95"/>
<circle cx="394.31" cy="296.20" r="2.25" fill="none" stroke="#666" stroke-width="0.95"/>
<circle cx="401.61" cy="297.12" r="2.25" fill="none" stroke="#666" stroke-width="0.95"/>
<circle cx="425.88" cy="299.31" r="2.25" fill="none" stroke="#666" stroke-width="0.95"/>
<circle cx="432.64" cy="299.31" r="2.25" fill="none" stroke="#666" stroke-width="0.95"/>
<circle cx="416.76" cy="304.78" r="2.25" fill="none" stroke="#666" stroke-width="0.95"/>
<circle cx="433.73" cy="304.78" r="2.25" fill="none" stroke="#666" stroke-width="0.95"/>
<circle cx="399.06" cy="308.43" r="2.25" fill="none" stroke="#666" stroke-width="0.95"/>
<circle cx="401.25" cy="308.98" r="2.25" fill="none" stroke="#666" stroke-width="0.95"/>
<circle cx="403.44" cy="308.98" r="2.25" fill="none" stroke="#666" stroke-width="0.95"/>
<circle cx="404.90" cy="308.43" r="2.25" fill="none" stroke="#666" stroke-width="0.95"/>
<circle cx="407.09" cy="308.43" r="2.25" fill="none" stroke="#666" stroke-width="0.95"/>
<circle cx="408.18" cy="308.98" r="2.25" fill="none" stroke="#666" stroke-width="0.95"/>
<circle cx="415.48" cy="308.43" r="2.25" fill="none" stroke="#666" stroke-width="0.95"/>
<circle cx="420.96" cy="308.98" r="2.25" fill="none" stroke="#666" stroke-width="0.95"/>
<circle cx="428.26" cy="308.07" r="2.25" fill="none" stroke="#666" stroke-width="0.95"/>
<circle cx="430.08" cy="308.07" r="2.25" fill="none" stroke="#666" stroke-width="0.95"/>
<circle cx="435.92" cy="308.43" r="2.25" fill="none" stroke="#666" stroke-width="0.95"/>
<circle cx="439.93" cy="307.70" r="2.25" fill="none" stroke="#666" stroke-width="0.95"/>
<circle cx="441.76" cy="308.07" r="2.25" fill="none" stroke="#666" stroke-width="0.95"/>
<circle cx="441.03" cy="309.53" r="2.25" fill="none" stroke="#666" stroke-width="0.95"/>
<circle cx="445.96" cy="307.15" r="2.25" fill="none" stroke="#666" stroke-width="0.95"/>
<circle cx="446.50" cy="308.98" r="2.25" fill="none" stroke="#666" stroke-width="0.95"/>
<circle cx="449.06" cy="307.70" r="2.25" fill="none" stroke="#666" stroke-width="0.95"/>
<circle cx="479.35" cy="308.43" r="2.25" fill="none" stroke="#666" stroke-width="0.95"/>
<circle cx="486.65" cy="306.61" r="2.25" fill="none" stroke="#666" stroke-width="0.95"/>
<circle cx="494.31" cy="305.88" r="2.25" fill="none" stroke="#666" stroke-width="0.95"/>
<circle cx="495.77" cy="304.42" r="2.25" fill="none" stroke="#666" stroke-width="0.95"/>
<line x1="394.86" y1="299.31" x2="495.23" y2="302.59" stroke="#333" stroke-width="1.4"/>
<text x="441.80" y="230.50" font-size="9.0" text-anchor="start" fill="#000" stroke="#000" stroke-width="0.18">R<tspan font-size="5.94" dy="-3.78">2</tspan><tspan dy="3.78"> = 0.002</tspan></text>
<text x="441.80" y="245.10" font-size="9.0" text-anchor="start" fill="#000" stroke="#000" stroke-width="0.18">P value = 0.73</text>
<line x1="558.50" y1="221.40" x2="558.50" y2="309.00" stroke="#222" stroke-width="1"/>
<line x1="558.00" y1="308.50" x2="673.00" y2="308.50" stroke="#222" stroke-width="1"/>
<line x1="555.90" y1="221.50" x2="558.50" y2="221.50" stroke="#222" stroke-width="1"/>
<text x="0.00" y="0.00" font-size="9.8" text-anchor="end" fill="#000" stroke="#000" stroke-width="0.18" transform="translate(555.70,224.90) scale(0.93,1)">4×10<tspan font-size="6.4" dy="-3.0">5</tspan></text>
<line x1="555.90" y1="243.50" x2="558.50" y2="243.50" stroke="#222" stroke-width="1"/>
<text x="0.00" y="0.00" font-size="9.8" text-anchor="end" fill="#000" stroke="#000" stroke-width="0.18" transform="translate(555.70,246.70) scale(0.93,1)">3×10<tspan font-size="6.4" dy="-3.0">5</tspan></text>
<line x1="555.90" y1="264.50" x2="558.50" y2="264.50" stroke="#222" stroke-width="1"/>
<text x="0.00" y="0.00" font-size="9.8" text-anchor="end" fill="#000" stroke="#000" stroke-width="0.18" transform="translate(555.70,268.40) scale(0.93,1)">2×10<tspan font-size="6.4" dy="-3.0">5</tspan></text>
<line x1="555.90" y1="286.50" x2="558.50" y2="286.50" stroke="#222" stroke-width="1"/>
<text x="0.00" y="0.00" font-size="9.8" text-anchor="end" fill="#000" stroke="#000" stroke-width="0.18" transform="translate(555.70,290.20) scale(0.93,1)">1×10<tspan font-size="6.4" dy="-3.0">5</tspan></text>
<line x1="555.90" y1="308.50" x2="558.50" y2="308.50" stroke="#222" stroke-width="1"/>
<text x="0.00" y="0.00" font-size="9.8" text-anchor="end" fill="#000" stroke="#000" stroke-width="0.18" transform="translate(555.70,311.90) scale(0.93,1)">0</text>
<line x1="558.50" y1="308.50" x2="558.50" y2="311.10" stroke="#222" stroke-width="1"/>
<text x="0.00" y="0.00" font-size="9.5" text-anchor="end" fill="#000" stroke="#000" stroke-width="0.18" transform="translate(561.50,318.00) rotate(-45)">0</text>
<line x1="587.50" y1="308.50" x2="587.50" y2="311.10" stroke="#222" stroke-width="1"/>
<text x="0.00" y="0.00" font-size="9.5" text-anchor="end" fill="#000" stroke="#000" stroke-width="0.18" transform="translate(590.20,318.00) rotate(-45)">1×10<tspan font-size="6.4" dy="-3.0">3</tspan></text>
<line x1="615.50" y1="308.50" x2="615.50" y2="311.10" stroke="#222" stroke-width="1"/>
<text x="0.00" y="0.00" font-size="9.5" text-anchor="end" fill="#000" stroke="#000" stroke-width="0.18" transform="translate(618.80,318.00) rotate(-45)">2×10<tspan font-size="6.4" dy="-3.0">3</tspan></text>
<line x1="644.50" y1="308.50" x2="644.50" y2="311.10" stroke="#222" stroke-width="1"/>
<text x="0.00" y="0.00" font-size="9.5" text-anchor="end" fill="#000" stroke="#000" stroke-width="0.18" transform="translate(647.50,318.00) rotate(-45)">3×10<tspan font-size="6.4" dy="-3.0">3</tspan></text>
<line x1="673.50" y1="308.50" x2="673.50" y2="311.10" stroke="#222" stroke-width="1"/>
<text x="0.00" y="0.00" font-size="9.5" text-anchor="end" fill="#000" stroke="#000" stroke-width="0.18" transform="translate(676.20,318.00) rotate(-45)">4×10<tspan font-size="6.4" dy="-3.0">3</tspan></text>
<text x="615.50" y="209.20" font-size="9.65" text-anchor="middle" fill="#000" stroke="#000" stroke-width="0.18">mRNA counts</text>
<text x="615.65" y="350.00" font-size="10" text-anchor="middle" fill="#000" stroke="#000" stroke-width="0.18">PCSK9</text>
<text x="0.00" y="0.00" font-size="10" text-anchor="middle" fill="#000" stroke="#000" stroke-width="0.18" transform="translate(525.00,261.60) rotate(-90)">IL-1β</text>
<circle cx="582.01" cy="226.31" r="2.25" fill="none" stroke="#666" stroke-width="0.95"/>
<circle cx="615.58" cy="257.34" r="2.25" fill="none" stroke="#666" stroke-width="0.95"/>
<circle cx="569.23" cy="272.48" r="2.25" fill="none" stroke="#666" stroke-width="0.95"/>
<circle cx="610.11" cy="279.23" r="2.25" fill="none" stroke="#666" stroke-width="0.95"/>
<circle cx="668.50" cy="279.78" r="2.25" fill="none" stroke="#666" stroke-width="0.95"/>
<circle cx="606.46" cy="291.28" r="2.25" fill="none" stroke="#666" stroke-width="0.95"/>
<circle cx="610.66" cy="292.55" r="2.25" fill="none" stroke="#666" stroke-width="0.95"/>
<circle cx="620.33" cy="290.18" r="2.25" fill="none" stroke="#666" stroke-width="0.95"/>
<circle cx="602.81" cy="298.03" r="2.25" fill="none" stroke="#666" stroke-width="0.95"/>
<circle cx="605.73" cy="298.94" r="2.25" fill="none" stroke="#666" stroke-width="0.95"/>
<circle cx="613.39" cy="298.03" r="2.25" fill="none" stroke="#666" stroke-width="0.95"/>
<circle cx="619.23" cy="297.12" r="2.25" fill="none" stroke="#666" stroke-width="0.95"/>
<circle cx="567.41" cy="302.23" r="2.25" fill="none" stroke="#666" stroke-width="0.95"/>
<circle cx="573.25" cy="301.68" r="2.25" fill="none" stroke="#666" stroke-width="0.95"/>
<circle cx="575.07" cy="302.59" r="2.25" fill="none" stroke="#666" stroke-width="0.95"/>
<circle cx="576.53" cy="304.42" r="2.25" fill="none" stroke="#666" stroke-width="0.95"/>
<circle cx="572.34" cy="305.88" r="2.25" fill="none" stroke="#666" stroke-width="0.95"/>
<circle cx="574.16" cy="307.15" r="2.25" fill="none" stroke="#666" stroke-width="0.95"/>
<circle cx="575.99" cy="307.70" r="2.25" fill="none" stroke="#666" stroke-width="0.95"/>
<circle cx="577.81" cy="306.24" r="2.25" fill="none" stroke="#666" stroke-width="0.95"/>
<circle cx="580.55" cy="305.33" r="2.25" fill="none" stroke="#666" stroke-width="0.95"/>
<circle cx="581.46" cy="307.15" r="2.25" fill="none" stroke="#666" stroke-width="0.95"/>
<circle cx="588.76" cy="305.88" r="2.25" fill="none" stroke="#666" stroke-width="0.95"/>
<circle cx="590.58" cy="304.78" r="2.25" fill="none" stroke="#666" stroke-width="0.95"/>
<circle cx="596.06" cy="303.50" r="2.25" fill="none" stroke="#666" stroke-width="0.95"/>
<circle cx="598.43" cy="302.96" r="2.25" fill="none" stroke="#666" stroke-width="0.95"/>
<circle cx="593.69" cy="307.15" r="2.25" fill="none" stroke="#666" stroke-width="0.95"/>
<circle cx="601.53" cy="308.07" r="2.25" fill="none" stroke="#666" stroke-width="0.95"/>
<circle cx="608.28" cy="306.24" r="2.25" fill="none" stroke="#666" stroke-width="0.95"/>
<circle cx="613.76" cy="307.15" r="2.25" fill="none" stroke="#666" stroke-width="0.95"/>
<circle cx="615.22" cy="308.07" r="2.25" fill="none" stroke="#666" stroke-width="0.95"/>
<circle cx="617.96" cy="308.43" r="2.25" fill="none" stroke="#666" stroke-width="0.95"/>
<circle cx="619.23" cy="307.70" r="2.25" fill="none" stroke="#666" stroke-width="0.95"/>
<circle cx="622.15" cy="305.88" r="2.25" fill="none" stroke="#666" stroke-width="0.95"/>
<circle cx="652.63" cy="306.61" r="2.25" fill="none" stroke="#666" stroke-width="0.95"/>
<circle cx="659.38" cy="302.59" r="2.25" fill="none" stroke="#666" stroke-width="0.95"/>
<circle cx="667.23" cy="305.88" r="2.25" fill="none" stroke="#666" stroke-width="0.95"/>
<line x1="567.77" y1="299.85" x2="668.50" y2="297.48" stroke="#333" stroke-width="1.4"/>
<text x="613.40" y="230.50" font-size="9.0" text-anchor="start" fill="#000" stroke="#000" stroke-width="0.18">R<tspan font-size="5.94" dy="-3.78">2</tspan><tspan dy="3.78"> = 0.001</tspan></text>
<text x="613.80" y="244.90" font-size="9.0" text-anchor="start" fill="#000" stroke="#000" stroke-width="0.18">P value = 0.82</text>
<path d="M47.2,38 L46.8,46 C42,48.5 33,50 27.5,53 C22.5,56 21.6,62 21.3,70 C21,82 20.5,96 20.8,106.5 L24.6,106.5 C25,97 26.5,86 28.8,77 L31.3,73.5 C31.3,92 31.5,110 32.3,128.3 L76.2,128.3 C76.8,110 77,92 77,73.5 L79.3,77 C81.5,86 83,97 83.4,106.5 L87.2,106.5 C87.5,96 87,82 86.7,70 C86.4,62 85.5,56 80.5,53 C75,50 66,48.5 61.2,46 L60.8,38 Z" fill="#eaf1f7" stroke="#bcd2e3" stroke-width="0.6"/>
<path d="M31.3,73.5 L31.3,100 M77,73.5 L77,100" fill="none" stroke="#bcd2e3" stroke-width="0.5"/>
<path d="M41,47 C48,52 58,52 66,47" fill="none" stroke="#bcd2e3" stroke-width="0.5"/>
<path d="M48.5,38 L48.5,45.5 L58.5,45.5 L58.5,38 Z" fill="#dce7f0" stroke="none" stroke-width="1"/>
<ellipse cx="53.3" cy="28" rx="10.3" ry="14" fill="#edf3f8" stroke="#bcd2e3" stroke-width="0.6"/>
<path d="M43.5,24 C43,15 48,12.5 53.5,12.8 C59,12.5 64,15 63.3,24 C62,19 58,17.5 53.5,18 C49,17.5 45,19 43.5,24 Z" fill="#c8dbe9" stroke="#b0c8da" stroke-width="0.4"/>
<ellipse cx="43" cy="29" rx="1.6" ry="3" fill="#e4eef6" stroke="#bcd2e3" stroke-width="0.5"/>
<ellipse cx="63.8" cy="29" rx="1.6" ry="3" fill="#e4eef6" stroke="#bcd2e3" stroke-width="0.5"/>
<path d="M45.5,25.5 q2.5,-1 5,0 M56,25.5 q2.5,-1 5,0" fill="none" stroke="#b5c9d9" stroke-width="0.6"/>
<path d="M46.3,28.2 q2,0.8 4,0 M56.5,28.2 q2,0.8 4,0" fill="none" stroke="#b5c9d9" stroke-width="0.5"/>
<path d="M51.6,33.2 q1.8,0.8 3.6,0 M51.5,36.2 q2,0.4 4,0" fill="none" stroke="#b5c9d9" stroke-width="0.45"/>
<radialGradient id="glow"><stop offset="0" stop-color="#e06060" stop-opacity="0.55"/><stop offset="1" stop-color="#e06060" stop-opacity="0"/></radialGradient>
<circle cx="56.50" cy="93.00" r="9.00" fill="url(#glow)" stroke="none" stroke-width="1"/>
<path d="M43.6,114.5 C42,111 42.5,105 42.3,99 C42.2,95 42.2,93 44,92.4 C50,91.6 58,91 64.2,90.8 C65.6,91.4 65.3,95 65.3,100 C65.3,106 65.8,112 65,116.4 C64,119 60,117 57.5,116.2 C55,115.6 54.2,117.5 54.3,120.5 L54.5,124" fill="none" stroke="#eb9c9b" stroke-width="7.0" stroke-linecap="round" stroke-linejoin="round"/>
<path d="M43.6,114.5 C42,111 42.5,105 42.3,99 C42.2,95 42.2,93 44,92.4 C50,91.6 58,91 64.2,90.8 C65.6,91.4 65.3,95 65.3,100 C65.3,106 65.8,112 65,116.4 C64,119 60,117 57.5,116.2 C55,115.6 54.2,117.5 54.3,120.5 L54.5,124" fill="none" stroke="#f3b0af" stroke-width="5.6" stroke-linecap="round" stroke-linejoin="round"/>
<path d="M41.5,97 l2,0.5 M41.5,101.5 l2,0.5 M41.5,106 l2,0.5 M41.8,110.5 l2,0.5 M64,96 l2.2,0.4 M64,100.5 l2.2,0.4 M64,105 l2.2,0.4 M64,109.5 l2.2,0.4 M64.2,114 l2,0.4 M48,90.5 l0.3,2.6 M52.5,90.3 l0.3,2.6 M60,90 l0.3,2.6" fill="none" stroke="#e89898" stroke-width="0.5"/>
<ellipse cx="56.2" cy="93.3" rx="5.2" ry="4.5" fill="#c8473a"/>
<line x1="56.30" y1="80.50" x2="56.30" y2="91.50" stroke="#111" stroke-width="0.9"/>
<circle cx="56.30" cy="91.30" r="1.10" fill="#111" stroke="none" stroke-width="1"/>
<text x="56.30" y="65.80" font-size="10" text-anchor="middle" fill="#7a7a7a" stroke="#7a7a7a" stroke-width="0.18">Colon</text>
<text x="56.30" y="77.60" font-size="10" text-anchor="middle" fill="#7a7a7a" stroke="#7a7a7a" stroke-width="0.18">cancer</text>
<line x1="58.50" y1="90.60" x2="81.50" y2="79.20" stroke="#111" stroke-width="0.75" stroke-dasharray="1.1,0.9"/>
<line x1="58.50" y1="93.80" x2="80.00" y2="104.50" stroke="#111" stroke-width="0.75" stroke-dasharray="1.1,0.9"/>
<circle cx="95.80" cy="92.60" r="18.20" fill="#fdf9f1" stroke="#2a2a2a" stroke-width="0.9"/>
<circle cx="88.00" cy="88.00" r="3.60" fill="#a8a8a8" stroke="none" stroke-width="0" fill-opacity="0.9"/>
<circle cx="95.00" cy="84.20" r="4.00" fill="#f5b565" stroke="none" stroke-width="0" fill-opacity="0.9"/>
<circle cx="102.40" cy="89.00" r="3.60" fill="#f6c79a" stroke="none" stroke-width="0" fill-opacity="0.9"/>
<circle cx="87.30" cy="96.80" r="3.40" fill="#f7cdb0" stroke="none" stroke-width="0" fill-opacity="0.9"/>
<circle cx="95.50" cy="101.80" r="3.60" fill="#b89a8a" stroke="none" stroke-width="0" fill-opacity="0.9"/>
<circle cx="90.20" cy="90.80" r="4.10" fill="#5cba5c" stroke="none" stroke-width="0" fill-opacity="0.9"/>
<circle cx="102.30" cy="96.50" r="3.90" fill="#54b158" stroke="none" stroke-width="0" fill-opacity="0.9"/>
<circle cx="94.80" cy="97.50" r="4.00" fill="#9b59c0" stroke="none" stroke-width="0" fill-opacity="0.9"/>
<circle cx="96.80" cy="91.20" r="4.30" fill="#3990d6" stroke="none" stroke-width="0" fill-opacity="0.9"/>
<circle cx="90.20" cy="90.80" r="1.10" fill="#2f8f3a" stroke="none" stroke-width="1"/>
<circle cx="96.80" cy="91.20" r="1.10" fill="#1d5fa0" stroke="none" stroke-width="1"/>
<circle cx="94.80" cy="97.50" r="1.10" fill="#6e3290" stroke="none" stroke-width="1"/>
<circle cx="102.30" cy="96.50" r="1.10" fill="#2f8a3a" stroke="none" stroke-width="1"/>
<circle cx="95.00" cy="84.20" r="1.10" fill="#d98e3a" stroke="none" stroke-width="1"/>
<line x1="118.00" y1="93.00" x2="148.00" y2="93.00" stroke="#4aa2ad" stroke-width="1.6"/>
<path d="M146,89.5 L152,93 L146,96.5 Z" fill="#4aa2ad" stroke="none" stroke-width="1"/>
<line x1="210.00" y1="93.00" x2="238.00" y2="93.00" stroke="#4aa2ad" stroke-width="1.6"/>
<path d="M236,89.5 L242,93 L236,96.5 Z" fill="#4aa2ad" stroke="none" stroke-width="1"/>
<text x="57.50" y="154.30" font-size="10.6" text-anchor="middle" fill="#000" stroke="#000" stroke-width="0.18">Tumor samples from</text>
<text x="57.50" y="166.30" font-size="10.6" text-anchor="middle" fill="#000" stroke="#000" stroke-width="0.18">42 colon cancer patients</text>
<text x="185.60" y="21.30" font-size="10.7" text-anchor="middle" fill="#000" stroke="#000" stroke-width="0.18">Clinical data analysis</text>
<text x="184.20" y="154.30" font-size="10.6" text-anchor="middle" fill="#000" stroke="#000" stroke-width="0.18">RNA</text>
<text x="184.20" y="166.30" font-size="10.6" text-anchor="middle" fill="#000" stroke="#000" stroke-width="0.18">sequencing</text>
<text x="303.90" y="154.30" font-size="10.6" text-anchor="middle" fill="#000" stroke="#000" stroke-width="0.18">Correlation</text>
<text x="303.90" y="166.30" font-size="10.6" text-anchor="middle" fill="#000" stroke="#000" stroke-width="0.18">analysis</text>
<path d="M180.54,45.21 L181.31,43.44 M181.32,46.95 L183.16,42.86 M182.36,47.66 L184.53,43.28 M183.81,47.48 L185.44,44.71 M187.77,46.48 L185.89,48.85 M189.36,46.70 L186.14,50.19 M190.55,48.12 L187.01,50.96 M190.58,49.91 L188.34,51.15 M188.68,53.49 L192.14,52.57 M188.25,54.86 L193.19,54.06 M188.92,55.98 L192.82,55.79 M191.86,60.78 L188.10,58.54 M191.29,62.14 L187.33,59.12 M189.56,62.90 L187.10,60.70 M185.64,62.48 L187.24,64.69 M183.94,62.37 L186.57,66.39 M182.74,63.35 L185.37,67.03 M182.24,65.30 L183.68,66.83 M183.13,69.10 L179.72,67.29 M183.18,70.35 L178.54,68.49 M182.33,71.24 L178.52,70.14 M179.09,73.19 L180.87,73.24 M177.96,74.84 L182.19,74.22 M177.94,76.48 L182.75,75.31 M179.07,77.67 L182.33,76.74 M182.55,79.47 L180.06,79.91 M183.86,80.73 L179.20,81.43 " fill="none" stroke="#7f97d6" stroke-width="0.8"/>
<path d="M180.20,44.00 L180.26,44.25 L180.34,44.54 L180.43,44.86 L180.54,45.21 L180.66,45.58 L180.80,45.95 L180.95,46.31 L181.13,46.64 L181.32,46.95 L181.54,47.21 L181.79,47.42 L182.06,47.57 L182.36,47.66 L182.69,47.69 L183.04,47.66 L183.42,47.59 L183.81,47.48 L184.22,47.35 L184.63,47.21 L185.06,47.08 L185.50,46.96 L185.95,46.83 L186.41,46.72 L186.87,46.61 L187.32,46.53 L187.77,46.48 L188.20,46.46 L188.61,46.49 L189.00,46.57 L189.36,46.70 L189.68,46.88 L189.97,47.11 L190.21,47.40 L190.41,47.74 L190.55,48.12 L190.64,48.53 L190.68,48.97 L190.66,49.44 L190.58,49.91 L190.44,50.38 L190.26,50.84 L190.02,51.31 L189.76,51.77 L189.48,52.22 L189.20,52.66 L188.93,53.09 L188.68,53.49 L188.48,53.87 L188.34,54.22 L188.26,54.55 L188.25,54.86 L188.32,55.16 L188.46,55.44 L188.66,55.71 L188.92,55.98 L189.22,56.25 L189.55,56.53 L189.90,56.83 L190.25,57.13 L190.58,57.46 L190.88,57.82 L191.16,58.21 L191.39,58.62 L191.59,59.05 L191.73,59.49 L191.83,59.93 L191.87,60.36 L191.86,60.78 L191.80,61.17 L191.68,61.53 L191.51,61.86 L191.29,62.14 L191.03,62.39 L190.72,62.58 L190.37,62.73 L189.98,62.84 L189.56,62.90 L189.12,62.94 L188.65,62.94 L188.16,62.93 L187.64,62.90 L187.13,62.82 L186.62,62.72 L186.12,62.60 L185.64,62.48 L185.18,62.38 L184.74,62.32 L184.33,62.32 L183.94,62.37 L183.58,62.50 L183.26,62.71 L182.98,62.99 L182.74,63.35 L182.54,63.77 L182.39,64.24 L182.29,64.76 L182.24,65.30 L182.25,65.85 L182.31,66.38 L182.42,66.89 L182.57,67.38 L182.72,67.85 L182.87,68.29 L183.01,68.71 L183.13,69.10 L183.22,69.46 L183.26,69.78 L183.25,70.08 L183.18,70.35 L183.05,70.59 L182.87,70.82 L182.63,71.03 L182.33,71.24 L181.99,71.44 L181.61,71.64 L181.20,71.85 L180.77,72.08 L180.33,72.32 L179.90,72.57 L179.48,72.86 L179.09,73.19 L178.73,73.56 L178.41,73.97 L178.15,74.40 L177.96,74.84 L177.84,75.28 L177.79,75.70 L177.83,76.10 L177.94,76.48 L178.13,76.83 L178.39,77.14 L178.71,77.42 L179.07,77.67 L179.46,77.90 L179.87,78.10 L180.29,78.29 L180.69,78.47 L181.08,78.64 L181.44,78.81 L181.76,78.99 L182.05,79.16 L182.31,79.32 L182.55,79.47 L182.76,79.61 L182.95,79.75 L183.12,79.88 L183.26,80.01 L183.39,80.13 L183.50,80.25 L183.60,80.35 L183.68,80.46 L183.75,80.55 L183.81,80.64 L183.86,80.73 L183.91,80.80 L183.95,80.87 L183.98,80.94 L184.01,81.00 L184.03,81.05 L184.05,81.10" fill="none" stroke="#2b4ba8" stroke-width="1.15" stroke-linecap="round"/>
<path d="M180.20,44.00 L180.43,43.89 L180.69,43.76 L180.99,43.60 L181.31,43.44 L181.65,43.28 L182.02,43.13 L182.40,43.00 L182.78,42.91 L183.16,42.86 L183.53,42.86 L183.89,42.93 L184.22,43.07 L184.53,43.28 L184.81,43.55 L185.06,43.89 L185.27,44.28 L185.44,44.71 L185.58,45.17 L185.68,45.65 L185.74,46.12 L185.77,46.58 L185.79,47.05 L185.81,47.52 L185.84,47.98 L185.86,48.43 L185.89,48.85 L185.93,49.24 L185.98,49.60 L186.05,49.92 L186.14,50.19 L186.26,50.42 L186.40,50.61 L186.57,50.76 L186.77,50.87 L187.01,50.96 L187.29,51.02 L187.61,51.06 L187.96,51.11 L188.34,51.15 L188.76,51.22 L189.21,51.32 L189.70,51.44 L190.21,51.60 L190.72,51.79 L191.23,52.01 L191.71,52.27 L192.14,52.57 L192.52,52.90 L192.83,53.26 L193.05,53.65 L193.19,54.06 L193.23,54.49 L193.18,54.93 L193.04,55.36 L192.82,55.79 L192.54,56.21 L192.21,56.59 L191.83,56.95 L191.43,57.27 L191.02,57.54 L190.61,57.76 L190.19,57.94 L189.79,58.08 L189.40,58.19 L189.03,58.29 L188.69,58.37 L188.38,58.45 L188.10,58.54 L187.86,58.64 L187.65,58.77 L187.47,58.92 L187.33,59.12 L187.23,59.35 L187.15,59.63 L187.11,59.95 L187.09,60.31 L187.10,60.70 L187.13,61.14 L187.17,61.60 L187.24,62.07 L187.31,62.56 L187.35,63.08 L187.35,63.61 L187.31,64.16 L187.24,64.69 L187.12,65.19 L186.97,65.65 L186.79,66.05 L186.57,66.39 L186.32,66.66 L186.03,66.85 L185.71,66.98 L185.37,67.03 L184.99,67.03 L184.58,66.98 L184.14,66.91 L183.68,66.83 L183.20,66.76 L182.70,66.71 L182.18,66.71 L181.66,66.75 L181.14,66.82 L180.63,66.94 L180.16,67.09 L179.72,67.29 L179.33,67.53 L179.00,67.81 L178.73,68.13 L178.54,68.49 L178.42,68.87 L178.38,69.28 L178.41,69.70 L178.52,70.14 L178.68,70.58 L178.91,71.01 L179.18,71.44 L179.48,71.85 L179.82,72.24 L180.16,72.61 L180.52,72.94 L180.87,73.24 L181.23,73.50 L181.58,73.75 L181.90,73.99 L182.19,74.22 L182.42,74.47 L182.59,74.73 L182.70,75.01 L182.75,75.31 L182.73,75.64 L182.65,75.99 L182.51,76.36 L182.33,76.74 L182.12,77.14 L181.88,77.53 L181.63,77.92 L181.37,78.28 L181.11,78.63 L180.87,78.94 L180.64,79.21 L180.43,79.46 L180.24,79.69 L180.06,79.91 L179.91,80.11 L179.78,80.30 L179.67,80.47 L179.57,80.62 L179.48,80.77 L179.41,80.90 L179.35,81.02 L179.30,81.13 L179.26,81.24 L179.23,81.34 L179.20,81.43 L179.18,81.51 L179.17,81.60 L179.16,81.67 L179.15,81.75 L179.15,81.83 L179.15,81.90" fill="none" stroke="#2b4ba8" stroke-width="1.15" stroke-linecap="round"/>
<path d="M177.5,43.6 L181.8,42.4 M181.0,40.2 L180.6,44.6" fill="none" stroke="#2b4ba8" stroke-width="1.0" stroke-linecap="round"/>
<path d="M159,88 Q159,85.6 161.5,85.6 L176,85.6 L176,119.8 L159,119.8 Z" fill="#dfe2e4" stroke="none" stroke-width="1"/>
<path d="M159,88 Q159,85.6 161.5,85.6 L162.6,85.6 L162.6,119.8 L159,119.8 Z" fill="#b7bbbe" stroke="none" stroke-width="1"/>
<path d="M164.5,97 C165.5,105 166,112 169,119.8 L167,119.8 C164.5,112 164,105 163.5,97 Z" fill="#f6f7f8" stroke="none" stroke-width="1"/>
<path d="M175.5,81.6 L197,81.6 Q198,81.6 198,83 L198.6,97 L172.3,97 L172.3,84.5 Q172.5,81.6 175.5,81.6 Z" fill="#3d3f41" stroke="none" stroke-width="1"/>
<rect x="178.70" y="83.20" width="15.70" height="12.10" fill="#dcedf4" stroke="none" stroke-width="1"/>
<rect x="176.70" y="96.00" width="21.70" height="1.30" fill="#6bb8b5" stroke="none" stroke-width="1"/>
<path d="M167.6,96.9 L204,96.9 L204,118.2 L166.2,118.2 L166.2,98.3 Q166.2,96.9 167.6,96.9 Z" fill="#4a4b4d" stroke="none" stroke-width="1"/>
<path d="M167.6,96.9 L192,96.9 L181.5,118.2 L166.2,118.2 L166.2,98.3 Q166.2,96.9 167.6,96.9 Z" fill="#535557" stroke="none" stroke-width="1"/>
<line x1="192.00" y1="97.20" x2="192.00" y2="118.00" stroke="#3e3f41" stroke-width="0.5"/>
<rect x="168.00" y="118.20" width="35.00" height="1.60" fill="#6a6c6e" stroke="none" stroke-width="1"/>
<circle cx="171.50" cy="98.60" r="0.50" fill="#6bb8b5" stroke="none" stroke-width="1"/>
<line x1="269.00" y1="124.60" x2="348.00" y2="124.60" stroke="#111" stroke-width="0.9"/>
<line x1="269.00" y1="124.60" x2="269.00" y2="56.00" stroke="#111" stroke-width="0.9"/>
<path d="M266.8,57.5 L269,53.5 L271.2,57.5 Z" fill="#111" stroke="none" stroke-width="1"/>
<path d="M347,122.4 L351,124.6 L347,126.8 Z" fill="#111" stroke="none" stroke-width="1"/>
<line x1="280.00" y1="62.80" x2="341.70" y2="120.90" stroke="#a8d8a0" stroke-width="0.7"/>
<ellipse cx="280.4" cy="63.9" rx="2.2" ry="1.9" fill="#5cb85a"/>
<ellipse cx="298.5" cy="70.1" rx="2.2" ry="1.9" fill="#5cb85a"/>
<ellipse cx="289.6" cy="81.9" rx="2.2" ry="1.9" fill="#5cb85a"/>
<ellipse cx="302.3" cy="84.3" rx="2.2" ry="1.9" fill="#5cb85a"/>
<ellipse cx="305.5" cy="94.8" rx="2.2" ry="1.9" fill="#5cb85a"/>
<ellipse cx="321.3" cy="94.8" rx="2.2" ry="1.9" fill="#5cb85a"/>
<ellipse cx="323" cy="108.4" rx="2.2" ry="1.9" fill="#5cb85a"/>
<ellipse cx="336.2" cy="119.3" rx="2.2" ry="1.9" fill="#5cb85a"/>
<text x="0.00" y="0.00" font-size="10.4" text-anchor="middle" fill="#8a8a8a" stroke="#8a8a8a" stroke-width="0.18" transform="translate(252.20,90.50) rotate(-90)">Innate immunity-related</text>
<text x="0.00" y="0.00" font-size="10.4" text-anchor="middle" fill="#8a8a8a" stroke="#8a8a8a" stroke-width="0.18" transform="translate(264.60,89.50) rotate(-90)">genes</text>
<text x="305.00" y="137.00" font-size="10" text-anchor="middle" fill="#8a8a8a" stroke="#8a8a8a" stroke-width="0.18">PCSK9</text>
<linearGradient id="cbar" x1="0" y1="1" x2="0" y2="0"><stop offset="0" stop-color="#0e778b"/><stop offset="0.12" stop-color="#9ccfd9"/><stop offset="0.19" stop-color="#ffffff"/><stop offset="0.27" stop-color="#fef1e8"/><stop offset="0.53" stop-color="#fbbf9a"/><stop offset="0.78" stop-color="#f88a48"/><stop offset="1" stop-color="#f5630a"/></linearGradient>
<rect x="56.70" y="392.00" width="9.72" height="11.38" fill="#10798d" stroke="none" stroke-width="1"/>
<rect x="66.37" y="392.00" width="9.72" height="11.38" fill="#10798d" stroke="none" stroke-width="1"/>
<rect x="76.03" y="392.00" width="9.72" height="11.38" fill="#10798d" stroke="none" stroke-width="1"/>
<rect x="85.70" y="392.00" width="9.72" height="11.38" fill="#10798d" stroke="none" stroke-width="1"/>
<rect x="95.37" y="392.00" width="9.72" height="11.38" fill="#10798d" stroke="none" stroke-width="1"/>
<rect x="105.03" y="392.00" width="9.72" height="11.38" fill="#10798d" stroke="none" stroke-width="1"/>
<rect x="114.70" y="392.00" width="9.72" height="11.38" fill="#10798d" stroke="none" stroke-width="1"/>
<rect x="124.37" y="392.00" width="9.72" height="11.38" fill="#10798d" stroke="none" stroke-width="1"/>
<rect x="134.03" y="392.00" width="9.72" height="11.38" fill="#10798d" stroke="none" stroke-width="1"/>
<rect x="56.70" y="403.32" width="9.72" height="11.38" fill="#10798d" stroke="none" stroke-width="1"/>
<rect x="66.37" y="403.32" width="9.72" height="11.38" fill="#10798d" stroke="none" stroke-width="1"/>
<rect x="76.03" y="403.32" width="9.72" height="11.38" fill="#10798d" stroke="none" stroke-width="1"/>
<rect x="85.70" y="403.32" width="9.72" height="11.38" fill="#10798d" stroke="none" stroke-width="1"/>
<rect x="95.37" y="403.32" width="9.72" height="11.38" fill="#10798d" stroke="none" stroke-width="1"/>
<rect x="105.03" y="403.32" width="9.72" height="11.38" fill="#10798d" stroke="none" stroke-width="1"/>
<rect x="114.70" y="403.32" width="9.72" height="11.38" fill="#1a7f93" stroke="none" stroke-width="1"/>
<rect x="124.37" y="403.32" width="9.72" height="11.38" fill="#1a7f93" stroke="none" stroke-width="1"/>
<rect x="134.03" y="403.32" width="9.72" height="11.38" fill="#1a7f93" stroke="none" stroke-width="1"/>
<rect x="56.70" y="414.65" width="9.72" height="11.38" fill="#10798d" stroke="none" stroke-width="1"/>
<rect x="66.37" y="414.65" width="9.72" height="11.38" fill="#10798d" stroke="none" stroke-width="1"/>
<rect x="76.03" y="414.65" width="9.72" height="11.38" fill="#10798d" stroke="none" stroke-width="1"/>
<rect x="85.70" y="414.65" width="9.72" height="11.38" fill="#10798d" stroke="none" stroke-width="1"/>
<rect x="95.37" y="414.65" width="9.72" height="11.38" fill="#10798d" stroke="none" stroke-width="1"/>
<rect x="105.03" y="414.65" width="9.72" height="11.38" fill="#10798d" stroke="none" stroke-width="1"/>
<rect x="114.70" y="414.65" width="9.72" height="11.38" fill="#3d93a5" stroke="none" stroke-width="1"/>
<rect x="124.37" y="414.65" width="9.72" height="11.38" fill="#4598a9" stroke="none" stroke-width="1"/>
<rect x="134.03" y="414.65" width="9.72" height="11.38" fill="#4a9aab" stroke="none" stroke-width="1"/>
<rect x="56.70" y="425.98" width="9.72" height="11.38" fill="#10798d" stroke="none" stroke-width="1"/>
<rect x="66.37" y="425.98" width="9.72" height="11.38" fill="#10798d" stroke="none" stroke-width="1"/>
<rect x="76.03" y="425.98" width="9.72" height="11.38" fill="#10798d" stroke="none" stroke-width="1"/>
<rect x="85.70" y="425.98" width="9.72" height="11.38" fill="#3a8fa2" stroke="none" stroke-width="1"/>
<rect x="95.37" y="425.98" width="9.72" height="11.38" fill="#3a8fa2" stroke="none" stroke-width="1"/>
<rect x="105.03" y="425.98" width="9.72" height="11.38" fill="#3a8fa2" stroke="none" stroke-width="1"/>
<rect x="114.70" y="425.98" width="9.72" height="11.38" fill="#9ccbd6" stroke="none" stroke-width="1"/>
<rect x="124.37" y="425.98" width="9.72" height="11.38" fill="#8cc2cf" stroke="none" stroke-width="1"/>
<rect x="134.03" y="425.98" width="9.72" height="11.38" fill="#94c6d2" stroke="none" stroke-width="1"/>
<rect x="56.70" y="437.30" width="9.72" height="11.38" fill="#16798e" stroke="none" stroke-width="1"/>
<rect x="66.37" y="437.30" width="9.72" height="11.38" fill="#16798e" stroke="none" stroke-width="1"/>
<rect x="76.03" y="437.30" width="9.72" height="11.38" fill="#16798e" stroke="none" stroke-width="1"/>
<rect x="85.70" y="437.30" width="9.72" height="11.38" fill="#9dcdd8" stroke="none" stroke-width="1"/>
<rect x="95.37" y="437.30" width="9.72" height="11.38" fill="#a6d1db" stroke="none" stroke-width="1"/>
<rect x="105.03" y="437.30" width="9.72" height="11.38" fill="#dbeef2" stroke="none" stroke-width="1"/>
<rect x="114.70" y="437.30" width="9.72" height="11.38" fill="#fde0d0" stroke="none" stroke-width="1"/>
<rect x="124.37" y="437.30" width="9.72" height="11.38" fill="#fde8dc" stroke="none" stroke-width="1"/>
<rect x="134.03" y="437.30" width="9.72" height="11.38" fill="#fde8dc" stroke="none" stroke-width="1"/>
<rect x="56.70" y="448.62" width="9.72" height="11.38" fill="#2a8597" stroke="none" stroke-width="1"/>
<rect x="66.37" y="448.62" width="9.72" height="11.38" fill="#2a8597" stroke="none" stroke-width="1"/>
<rect x="76.03" y="448.62" width="9.72" height="11.38" fill="#2a8597" stroke="none" stroke-width="1"/>
<rect x="85.70" y="448.62" width="9.72" height="11.38" fill="#fdeee6" stroke="none" stroke-width="1"/>
<rect x="95.37" y="448.62" width="9.72" height="11.38" fill="#fdeee6" stroke="none" stroke-width="1"/>
<rect x="105.03" y="448.62" width="9.72" height="11.38" fill="#fdeee6" stroke="none" stroke-width="1"/>
<rect x="114.70" y="448.62" width="9.72" height="11.38" fill="#f8924e" stroke="none" stroke-width="1"/>
<rect x="124.37" y="448.62" width="9.72" height="11.38" fill="#f89656" stroke="none" stroke-width="1"/>
<rect x="134.03" y="448.62" width="9.72" height="11.38" fill="#f8985a" stroke="none" stroke-width="1"/>
<rect x="56.70" y="459.95" width="9.72" height="11.38" fill="#84bfcc" stroke="none" stroke-width="1"/>
<rect x="66.37" y="459.95" width="9.72" height="11.38" fill="#84bfcc" stroke="none" stroke-width="1"/>
<rect x="76.03" y="459.95" width="9.72" height="11.38" fill="#84bfcc" stroke="none" stroke-width="1"/>
<rect x="85.70" y="459.95" width="9.72" height="11.38" fill="#fab08a" stroke="none" stroke-width="1"/>
<rect x="95.37" y="459.95" width="9.72" height="11.38" fill="#fab08a" stroke="none" stroke-width="1"/>
<rect x="105.03" y="459.95" width="9.72" height="11.38" fill="#fab08a" stroke="none" stroke-width="1"/>
<rect x="114.70" y="459.95" width="9.72" height="11.38" fill="#f67a2a" stroke="none" stroke-width="1"/>
<rect x="124.37" y="459.95" width="9.72" height="11.38" fill="#f5731f" stroke="none" stroke-width="1"/>
<rect x="134.03" y="459.95" width="9.72" height="11.38" fill="#f67b2b" stroke="none" stroke-width="1"/>
<rect x="56.70" y="471.28" width="9.72" height="11.38" fill="#cfe7ed" stroke="none" stroke-width="1"/>
<rect x="66.37" y="471.28" width="9.72" height="11.38" fill="#cfe7ed" stroke="none" stroke-width="1"/>
<rect x="76.03" y="471.28" width="9.72" height="11.38" fill="#cfe7ed" stroke="none" stroke-width="1"/>
<rect x="85.70" y="471.28" width="9.72" height="11.38" fill="#fbb08a" stroke="none" stroke-width="1"/>
<rect x="95.37" y="471.28" width="9.72" height="11.38" fill="#faaa80" stroke="none" stroke-width="1"/>
<rect x="105.03" y="471.28" width="9.72" height="11.38" fill="#f99f70" stroke="none" stroke-width="1"/>
<rect x="114.70" y="471.28" width="9.72" height="11.38" fill="#f56a0e" stroke="none" stroke-width="1"/>
<rect x="124.37" y="471.28" width="9.72" height="11.38" fill="#f67d30" stroke="none" stroke-width="1"/>
<rect x="134.03" y="471.28" width="9.72" height="11.38" fill="#f78038" stroke="none" stroke-width="1"/>
<line x1="66.37" y1="392.00" x2="66.37" y2="482.60" stroke="#ffffff" stroke-width="0.4" stroke-opacity="0.3"/>
<line x1="76.03" y1="392.00" x2="76.03" y2="482.60" stroke="#ffffff" stroke-width="0.4" stroke-opacity="0.3"/>
<line x1="85.70" y1="392.00" x2="85.70" y2="482.60" stroke="#ffffff" stroke-width="0.4" stroke-opacity="0.3"/>
<line x1="95.37" y1="392.00" x2="95.37" y2="482.60" stroke="#ffffff" stroke-width="0.4" stroke-opacity="0.3"/>
<line x1="105.03" y1="392.00" x2="105.03" y2="482.60" stroke="#ffffff" stroke-width="0.4" stroke-opacity="0.3"/>
<line x1="114.70" y1="392.00" x2="114.70" y2="482.60" stroke="#ffffff" stroke-width="0.4" stroke-opacity="0.3"/>
<line x1="124.37" y1="392.00" x2="124.37" y2="482.60" stroke="#ffffff" stroke-width="0.4" stroke-opacity="0.3"/>
<line x1="134.03" y1="392.00" x2="134.03" y2="482.60" stroke="#ffffff" stroke-width="0.4" stroke-opacity="0.3"/>
<line x1="56.70" y1="403.32" x2="143.70" y2="403.32" stroke="#ffffff" stroke-width="0.4" stroke-opacity="0.3"/>
<line x1="56.70" y1="414.65" x2="143.70" y2="414.65" stroke="#ffffff" stroke-width="0.4" stroke-opacity="0.3"/>
<line x1="56.70" y1="425.98" x2="143.70" y2="425.98" stroke="#ffffff" stroke-width="0.4" stroke-opacity="0.3"/>
<line x1="56.70" y1="437.30" x2="143.70" y2="437.30" stroke="#ffffff" stroke-width="0.4" stroke-opacity="0.3"/>
<line x1="56.70" y1="448.62" x2="143.70" y2="448.62" stroke="#ffffff" stroke-width="0.4" stroke-opacity="0.3"/>
<line x1="56.70" y1="459.95" x2="143.70" y2="459.95" stroke="#ffffff" stroke-width="0.4" stroke-opacity="0.3"/>
<line x1="56.70" y1="471.28" x2="143.70" y2="471.28" stroke="#ffffff" stroke-width="0.4" stroke-opacity="0.3"/>
<text x="100.20" y="375.50" font-size="8.8" text-anchor="middle" fill="#000" stroke="#000" stroke-width="0.18">siPCSK9 (μg)</text>
<line x1="56.70" y1="378.50" x2="143.70" y2="378.50" stroke="#222" stroke-width="1"/>
<text x="71.20" y="387.30" font-size="9.5" text-anchor="middle" fill="#000" stroke="#000" stroke-width="0.18">0</text>
<line x1="57.50" y1="390.00" x2="84.90" y2="390.00" stroke="#808080" stroke-width="1.5"/>
<text x="100.20" y="387.30" font-size="9.5" text-anchor="middle" fill="#000" stroke="#000" stroke-width="0.18">2</text>
<line x1="86.50" y1="390.00" x2="113.90" y2="390.00" stroke="#808080" stroke-width="1.5"/>
<text x="129.20" y="387.30" font-size="9.5" text-anchor="middle" fill="#000" stroke="#000" stroke-width="0.18">4</text>
<line x1="115.50" y1="390.00" x2="142.90" y2="390.00" stroke="#808080" stroke-width="1.5"/>
<text x="0.00" y="0.00" font-size="9.5" text-anchor="end" fill="#000" stroke="#000" stroke-width="0.18" transform="translate(54.50,400.96) scale(0.88,1)">0</text>
<line x1="54.50" y1="397.66" x2="56.70" y2="397.66" stroke="#222" stroke-width="0.8"/>
<text x="0.00" y="0.00" font-size="9.5" text-anchor="end" fill="#000" stroke="#000" stroke-width="0.18" transform="translate(54.50,412.29) scale(0.88,1)">25</text>
<line x1="54.50" y1="408.99" x2="56.70" y2="408.99" stroke="#222" stroke-width="0.8"/>
<text x="0.00" y="0.00" font-size="9.5" text-anchor="end" fill="#000" stroke="#000" stroke-width="0.18" transform="translate(54.50,423.61) scale(0.88,1)">50</text>
<line x1="54.50" y1="420.31" x2="56.70" y2="420.31" stroke="#222" stroke-width="0.8"/>
<text x="0.00" y="0.00" font-size="9.5" text-anchor="end" fill="#000" stroke="#000" stroke-width="0.18" transform="translate(54.50,434.94) scale(0.88,1)">100</text>
<line x1="54.50" y1="431.64" x2="56.70" y2="431.64" stroke="#222" stroke-width="0.8"/>
<text x="0.00" y="0.00" font-size="9.5" text-anchor="end" fill="#000" stroke="#000" stroke-width="0.18" transform="translate(54.50,446.26) scale(0.88,1)">200</text>
<line x1="54.50" y1="442.96" x2="56.70" y2="442.96" stroke="#222" stroke-width="0.8"/>
<text x="0.00" y="0.00" font-size="9.5" text-anchor="end" fill="#000" stroke="#000" stroke-width="0.18" transform="translate(54.50,457.59) scale(0.88,1)">400</text>
<line x1="54.50" y1="454.29" x2="56.70" y2="454.29" stroke="#222" stroke-width="0.8"/>
<text x="0.00" y="0.00" font-size="9.5" text-anchor="end" fill="#000" stroke="#000" stroke-width="0.18" transform="translate(54.50,468.91) scale(0.88,1)">800</text>
<line x1="54.50" y1="465.61" x2="56.70" y2="465.61" stroke="#222" stroke-width="0.8"/>
<text x="0.00" y="0.00" font-size="9.5" text-anchor="end" fill="#000" stroke="#000" stroke-width="0.18" transform="translate(54.50,480.24) scale(0.88,1)">1600</text>
<line x1="54.50" y1="476.94" x2="56.70" y2="476.94" stroke="#222" stroke-width="0.8"/>
<line x1="35.50" y1="391.00" x2="35.50" y2="480.60" stroke="#222" stroke-width="1"/>
<text x="0.00" y="0.00" font-size="9.5" text-anchor="middle" fill="#000" stroke="#000" stroke-width="0.18" transform="translate(31.50,436.80) rotate(-90)">Mn<tspan font-size="6" dy="-3.5">2+</tspan><tspan dy="3.5"> (μM)</tspan></text>
<rect x="151.30" y="390.60" width="9.10" height="79.70" fill="url(#cbar)" stroke="#555" stroke-width="0.5"/>
<line x1="158.80" y1="407.05" x2="160.40" y2="407.05" stroke="#333" stroke-width="0.6"/>
<text x="0.00" y="0.00" font-size="6.8" text-anchor="start" fill="#000" stroke="#000" stroke-width="0.18" transform="translate(164.00,409.45) scale(0.88,1)">3000</text>
<line x1="158.80" y1="428.13" x2="160.40" y2="428.13" stroke="#333" stroke-width="0.6"/>
<text x="0.00" y="0.00" font-size="6.8" text-anchor="start" fill="#000" stroke="#000" stroke-width="0.18" transform="translate(164.00,430.53) scale(0.88,1)">2000</text>
<line x1="158.80" y1="449.22" x2="160.40" y2="449.22" stroke="#333" stroke-width="0.6"/>
<text x="0.00" y="0.00" font-size="6.8" text-anchor="start" fill="#000" stroke="#000" stroke-width="0.18" transform="translate(164.00,451.62) scale(0.88,1)">1000</text>
<text x="0.00" y="0.00" font-size="6.8" text-anchor="start" fill="#000" stroke="#000" stroke-width="0.18" transform="translate(164.00,472.70) scale(0.88,1)">0</text>
<text x="0.00" y="0.00" font-size="6.8" text-anchor="middle" fill="#222" stroke="#222" stroke-width="0.18" transform="translate(158.05,479.30) scale(0.9,1)">IFN-β</text>
<text x="0.00" y="0.00" font-size="6.8" text-anchor="middle" fill="#222" stroke="#222" stroke-width="0.18" transform="translate(158.05,486.30) scale(0.9,1)">(pg/ml)</text>
<rect x="220.60" y="394.10" width="9.59" height="11.14" fill="#10798d" stroke="none" stroke-width="1"/>
<rect x="230.14" y="394.10" width="9.59" height="11.14" fill="#10798d" stroke="none" stroke-width="1"/>
<rect x="239.69" y="394.10" width="9.59" height="11.14" fill="#10798d" stroke="none" stroke-width="1"/>
<rect x="249.23" y="394.10" width="9.59" height="11.14" fill="#10798d" stroke="none" stroke-width="1"/>
<rect x="258.78" y="394.10" width="9.59" height="11.14" fill="#10798d" stroke="none" stroke-width="1"/>
<rect x="268.32" y="394.10" width="9.59" height="11.14" fill="#10798d" stroke="none" stroke-width="1"/>
<rect x="277.87" y="394.10" width="9.59" height="11.14" fill="#10798d" stroke="none" stroke-width="1"/>
<rect x="287.41" y="394.10" width="9.59" height="11.14" fill="#10798d" stroke="none" stroke-width="1"/>
<rect x="296.96" y="394.10" width="9.59" height="11.14" fill="#10798d" stroke="none" stroke-width="1"/>
<rect x="220.60" y="405.19" width="9.59" height="11.14" fill="#10798d" stroke="none" stroke-width="1"/>
<rect x="230.14" y="405.19" width="9.59" height="11.14" fill="#10798d" stroke="none" stroke-width="1"/>
<rect x="239.69" y="405.19" width="9.59" height="11.14" fill="#10798d" stroke="none" stroke-width="1"/>
<rect x="249.23" y="405.19" width="9.59" height="11.14" fill="#10798d" stroke="none" stroke-width="1"/>
<rect x="258.78" y="405.19" width="9.59" height="11.14" fill="#10798d" stroke="none" stroke-width="1"/>
<rect x="268.32" y="405.19" width="9.59" height="11.14" fill="#10798d" stroke="none" stroke-width="1"/>
<rect x="277.87" y="405.19" width="9.59" height="11.14" fill="#10798d" stroke="none" stroke-width="1"/>
<rect x="287.41" y="405.19" width="9.59" height="11.14" fill="#10798d" stroke="none" stroke-width="1"/>
<rect x="296.96" y="405.19" width="9.59" height="11.14" fill="#10798d" stroke="none" stroke-width="1"/>
<rect x="220.60" y="416.28" width="9.59" height="11.14" fill="#10798d" stroke="none" stroke-width="1"/>
<rect x="230.14" y="416.28" width="9.59" height="11.14" fill="#10798d" stroke="none" stroke-width="1"/>
<rect x="239.69" y="416.28" width="9.59" height="11.14" fill="#10798d" stroke="none" stroke-width="1"/>
<rect x="249.23" y="416.28" width="9.59" height="11.14" fill="#10798d" stroke="none" stroke-width="1"/>
<rect x="258.78" y="416.28" width="9.59" height="11.14" fill="#10798d" stroke="none" stroke-width="1"/>
<rect x="268.32" y="416.28" width="9.59" height="11.14" fill="#10798d" stroke="none" stroke-width="1"/>
<rect x="277.87" y="416.28" width="9.59" height="11.14" fill="#10798d" stroke="none" stroke-width="1"/>
<rect x="287.41" y="416.28" width="9.59" height="11.14" fill="#10798d" stroke="none" stroke-width="1"/>
<rect x="296.96" y="416.28" width="9.59" height="11.14" fill="#10798d" stroke="none" stroke-width="1"/>
<rect x="220.60" y="427.36" width="9.59" height="11.14" fill="#10798d" stroke="none" stroke-width="1"/>
<rect x="230.14" y="427.36" width="9.59" height="11.14" fill="#10798d" stroke="none" stroke-width="1"/>
<rect x="239.69" y="427.36" width="9.59" height="11.14" fill="#10798d" stroke="none" stroke-width="1"/>
<rect x="249.23" y="427.36" width="9.59" height="11.14" fill="#10798d" stroke="none" stroke-width="1"/>
<rect x="258.78" y="427.36" width="9.59" height="11.14" fill="#10798d" stroke="none" stroke-width="1"/>
<rect x="268.32" y="427.36" width="9.59" height="11.14" fill="#10798d" stroke="none" stroke-width="1"/>
<rect x="277.87" y="427.36" width="9.59" height="11.14" fill="#10798d" stroke="none" stroke-width="1"/>
<rect x="287.41" y="427.36" width="9.59" height="11.14" fill="#10798d" stroke="none" stroke-width="1"/>
<rect x="296.96" y="427.36" width="9.59" height="11.14" fill="#10798d" stroke="none" stroke-width="1"/>
<rect x="220.60" y="438.45" width="9.59" height="11.14" fill="#127b8f" stroke="none" stroke-width="1"/>
<rect x="230.14" y="438.45" width="9.59" height="11.14" fill="#127b8f" stroke="none" stroke-width="1"/>
<rect x="239.69" y="438.45" width="9.59" height="11.14" fill="#127b8f" stroke="none" stroke-width="1"/>
<rect x="249.23" y="438.45" width="9.59" height="11.14" fill="#127b8f" stroke="none" stroke-width="1"/>
<rect x="258.78" y="438.45" width="9.59" height="11.14" fill="#127b8f" stroke="none" stroke-width="1"/>
<rect x="268.32" y="438.45" width="9.59" height="11.14" fill="#127b8f" stroke="none" stroke-width="1"/>
<rect x="277.87" y="438.45" width="9.59" height="11.14" fill="#127b8f" stroke="none" stroke-width="1"/>
<rect x="287.41" y="438.45" width="9.59" height="11.14" fill="#127b8f" stroke="none" stroke-width="1"/>
<rect x="296.96" y="438.45" width="9.59" height="11.14" fill="#127b8f" stroke="none" stroke-width="1"/>
<rect x="220.60" y="449.54" width="9.59" height="11.14" fill="#2a8a9c" stroke="none" stroke-width="1"/>
<rect x="230.14" y="449.54" width="9.59" height="11.14" fill="#2a8a9c" stroke="none" stroke-width="1"/>
<rect x="239.69" y="449.54" width="9.59" height="11.14" fill="#2a8a9c" stroke="none" stroke-width="1"/>
<rect x="249.23" y="449.54" width="9.59" height="11.14" fill="#3590a2" stroke="none" stroke-width="1"/>
<rect x="258.78" y="449.54" width="9.59" height="11.14" fill="#3590a2" stroke="none" stroke-width="1"/>
<rect x="268.32" y="449.54" width="9.59" height="11.14" fill="#3590a2" stroke="none" stroke-width="1"/>
<rect x="277.87" y="449.54" width="9.59" height="11.14" fill="#2d8c9e" stroke="none" stroke-width="1"/>
<rect x="287.41" y="449.54" width="9.59" height="11.14" fill="#2d8c9e" stroke="none" stroke-width="1"/>
<rect x="296.96" y="449.54" width="9.59" height="11.14" fill="#2d8c9e" stroke="none" stroke-width="1"/>
<rect x="220.60" y="460.62" width="9.59" height="11.14" fill="#86c0cd" stroke="none" stroke-width="1"/>
<rect x="230.14" y="460.62" width="9.59" height="11.14" fill="#8ec4d0" stroke="none" stroke-width="1"/>
<rect x="239.69" y="460.62" width="9.59" height="11.14" fill="#8cc3cf" stroke="none" stroke-width="1"/>
<rect x="249.23" y="460.62" width="9.59" height="11.14" fill="#c9e4ea" stroke="none" stroke-width="1"/>
<rect x="258.78" y="460.62" width="9.59" height="11.14" fill="#7ab9c7" stroke="none" stroke-width="1"/>
<rect x="268.32" y="460.62" width="9.59" height="11.14" fill="#d6ebf0" stroke="none" stroke-width="1"/>
<rect x="277.87" y="460.62" width="9.59" height="11.14" fill="#bcdde5" stroke="none" stroke-width="1"/>
<rect x="287.41" y="460.62" width="9.59" height="11.14" fill="#c5e2e9" stroke="none" stroke-width="1"/>
<rect x="296.96" y="460.62" width="9.59" height="11.14" fill="#8ac2ce" stroke="none" stroke-width="1"/>
<rect x="220.60" y="471.71" width="9.59" height="11.14" fill="#cde6ec" stroke="none" stroke-width="1"/>
<rect x="230.14" y="471.71" width="9.59" height="11.14" fill="#cde6ec" stroke="none" stroke-width="1"/>
<rect x="239.69" y="471.71" width="9.59" height="11.14" fill="#cde6ec" stroke="none" stroke-width="1"/>
<rect x="249.23" y="471.71" width="9.59" height="11.14" fill="#cde6ec" stroke="none" stroke-width="1"/>
<rect x="258.78" y="471.71" width="9.59" height="11.14" fill="#cde6ec" stroke="none" stroke-width="1"/>
<rect x="268.32" y="471.71" width="9.59" height="11.14" fill="#cde6ec" stroke="none" stroke-width="1"/>
<rect x="277.87" y="471.71" width="9.59" height="11.14" fill="#bddee6" stroke="none" stroke-width="1"/>
<rect x="287.41" y="471.71" width="9.59" height="11.14" fill="#cde6ec" stroke="none" stroke-width="1"/>
<rect x="296.96" y="471.71" width="9.59" height="11.14" fill="#cde6ec" stroke="none" stroke-width="1"/>
<line x1="230.14" y1="394.10" x2="230.14" y2="482.80" stroke="#ffffff" stroke-width="0.4" stroke-opacity="0.3"/>
<line x1="239.69" y1="394.10" x2="239.69" y2="482.80" stroke="#ffffff" stroke-width="0.4" stroke-opacity="0.3"/>
<line x1="249.23" y1="394.10" x2="249.23" y2="482.80" stroke="#ffffff" stroke-width="0.4" stroke-opacity="0.3"/>
<line x1="258.78" y1="394.10" x2="258.78" y2="482.80" stroke="#ffffff" stroke-width="0.4" stroke-opacity="0.3"/>
<line x1="268.32" y1="394.10" x2="268.32" y2="482.80" stroke="#ffffff" stroke-width="0.4" stroke-opacity="0.3"/>
<line x1="277.87" y1="394.10" x2="277.87" y2="482.80" stroke="#ffffff" stroke-width="0.4" stroke-opacity="0.3"/>
<line x1="287.41" y1="394.10" x2="287.41" y2="482.80" stroke="#ffffff" stroke-width="0.4" stroke-opacity="0.3"/>
<line x1="296.96" y1="394.10" x2="296.96" y2="482.80" stroke="#ffffff" stroke-width="0.4" stroke-opacity="0.3"/>
<line x1="220.60" y1="405.19" x2="306.50" y2="405.19" stroke="#ffffff" stroke-width="0.4" stroke-opacity="0.3"/>
<line x1="220.60" y1="416.28" x2="306.50" y2="416.28" stroke="#ffffff" stroke-width="0.4" stroke-opacity="0.3"/>
<line x1="220.60" y1="427.36" x2="306.50" y2="427.36" stroke="#ffffff" stroke-width="0.4" stroke-opacity="0.3"/>
<line x1="220.60" y1="438.45" x2="306.50" y2="438.45" stroke="#ffffff" stroke-width="0.4" stroke-opacity="0.3"/>
<line x1="220.60" y1="449.54" x2="306.50" y2="449.54" stroke="#ffffff" stroke-width="0.4" stroke-opacity="0.3"/>
<line x1="220.60" y1="460.62" x2="306.50" y2="460.62" stroke="#ffffff" stroke-width="0.4" stroke-opacity="0.3"/>
<line x1="220.60" y1="471.71" x2="306.50" y2="471.71" stroke="#ffffff" stroke-width="0.4" stroke-opacity="0.3"/>
<text x="263.55" y="375.80" font-size="8.8" text-anchor="middle" fill="#000" stroke="#000" stroke-width="0.18">siCtrl (μg)</text>
<line x1="220.60" y1="379.50" x2="306.50" y2="379.50" stroke="#222" stroke-width="1"/>
<text x="234.92" y="388.80" font-size="9.5" text-anchor="middle" fill="#000" stroke="#000" stroke-width="0.18">0</text>
<line x1="221.40" y1="391.80" x2="248.43" y2="391.80" stroke="#808080" stroke-width="1.5"/>
<text x="263.55" y="388.80" font-size="9.5" text-anchor="middle" fill="#000" stroke="#000" stroke-width="0.18">2</text>
<line x1="250.03" y1="391.80" x2="277.07" y2="391.80" stroke="#808080" stroke-width="1.5"/>
<text x="292.18" y="388.80" font-size="9.5" text-anchor="middle" fill="#000" stroke="#000" stroke-width="0.18">4</text>
<line x1="278.67" y1="391.80" x2="305.70" y2="391.80" stroke="#808080" stroke-width="1.5"/>
<text x="0.00" y="0.00" font-size="9.5" text-anchor="end" fill="#000" stroke="#000" stroke-width="0.18" transform="translate(218.40,402.94) scale(0.88,1)">0</text>
<line x1="218.40" y1="399.64" x2="220.60" y2="399.64" stroke="#222" stroke-width="0.8"/>
<text x="0.00" y="0.00" font-size="9.5" text-anchor="end" fill="#000" stroke="#000" stroke-width="0.18" transform="translate(218.40,414.03) scale(0.88,1)">25</text>
<line x1="218.40" y1="410.73" x2="220.60" y2="410.73" stroke="#222" stroke-width="0.8"/>
<text x="0.00" y="0.00" font-size="9.5" text-anchor="end" fill="#000" stroke="#000" stroke-width="0.18" transform="translate(218.40,425.12) scale(0.88,1)">50</text>
<line x1="218.40" y1="421.82" x2="220.60" y2="421.82" stroke="#222" stroke-width="0.8"/>
<text x="0.00" y="0.00" font-size="9.5" text-anchor="end" fill="#000" stroke="#000" stroke-width="0.18" transform="translate(218.40,436.21) scale(0.88,1)">100</text>
<line x1="218.40" y1="432.91" x2="220.60" y2="432.91" stroke="#222" stroke-width="0.8"/>
<text x="0.00" y="0.00" font-size="9.5" text-anchor="end" fill="#000" stroke="#000" stroke-width="0.18" transform="translate(218.40,447.29) scale(0.88,1)">200</text>
<line x1="218.40" y1="443.99" x2="220.60" y2="443.99" stroke="#222" stroke-width="0.8"/>
<text x="0.00" y="0.00" font-size="9.5" text-anchor="end" fill="#000" stroke="#000" stroke-width="0.18" transform="translate(218.40,458.38) scale(0.88,1)">400</text>
<line x1="218.40" y1="455.08" x2="220.60" y2="455.08" stroke="#222" stroke-width="0.8"/>
<text x="0.00" y="0.00" font-size="9.5" text-anchor="end" fill="#000" stroke="#000" stroke-width="0.18" transform="translate(218.40,469.47) scale(0.88,1)">800</text>
<line x1="218.40" y1="466.17" x2="220.60" y2="466.17" stroke="#222" stroke-width="0.8"/>
<text x="0.00" y="0.00" font-size="9.5" text-anchor="end" fill="#000" stroke="#000" stroke-width="0.18" transform="translate(218.40,480.56) scale(0.88,1)">1600</text>
<line x1="218.40" y1="477.26" x2="220.60" y2="477.26" stroke="#222" stroke-width="0.8"/>
<line x1="199.50" y1="393.10" x2="199.50" y2="480.80" stroke="#222" stroke-width="1"/>
<text x="0.00" y="0.00" font-size="9.5" text-anchor="middle" fill="#000" stroke="#000" stroke-width="0.18" transform="translate(195.50,437.95) rotate(-90)">Mn<tspan font-size="6" dy="-3.5">2+</tspan><tspan dy="3.5">(μM)</tspan></text>
<rect x="314.50" y="392.40" width="8.20" height="78.40" fill="url(#cbar)" stroke="#555" stroke-width="0.5"/>
<line x1="321.10" y1="408.58" x2="322.70" y2="408.58" stroke="#333" stroke-width="0.6"/>
<text x="0.00" y="0.00" font-size="6.8" text-anchor="start" fill="#000" stroke="#000" stroke-width="0.18" transform="translate(327.00,410.98) scale(0.88,1)">3000</text>
<line x1="321.10" y1="429.32" x2="322.70" y2="429.32" stroke="#333" stroke-width="0.6"/>
<text x="0.00" y="0.00" font-size="6.8" text-anchor="start" fill="#000" stroke="#000" stroke-width="0.18" transform="translate(327.00,431.72) scale(0.88,1)">2000</text>
<line x1="321.10" y1="450.06" x2="322.70" y2="450.06" stroke="#333" stroke-width="0.6"/>
<text x="0.00" y="0.00" font-size="6.8" text-anchor="start" fill="#000" stroke="#000" stroke-width="0.18" transform="translate(327.00,452.46) scale(0.88,1)">1000</text>
<text x="0.00" y="0.00" font-size="6.8" text-anchor="start" fill="#000" stroke="#000" stroke-width="0.18" transform="translate(327.00,473.20) scale(0.88,1)">0</text>
<text x="0.00" y="0.00" font-size="6.8" text-anchor="middle" fill="#222" stroke="#222" stroke-width="0.18" transform="translate(320.80,479.80) scale(0.9,1)">IFN-β</text>
<text x="0.00" y="0.00" font-size="6.8" text-anchor="middle" fill="#222" stroke="#222" stroke-width="0.18" transform="translate(320.80,486.80) scale(0.9,1)">(pg/ml)</text>
<line x1="387.50" y1="384.50" x2="387.50" y2="474.00" stroke="#222" stroke-width="1"/>
<line x1="387.00" y1="473.50" x2="503.50" y2="473.50" stroke="#222" stroke-width="1"/>
<line x1="384.90" y1="385.50" x2="387.50" y2="385.50" stroke="#222" stroke-width="1"/>
<text x="384.30" y="388.80" font-size="9.3" text-anchor="end" fill="#000" stroke="#000" stroke-width="0.18">6000</text>
<line x1="386.00" y1="398.50" x2="387.50" y2="398.50" stroke="#222" stroke-width="1"/>
<line x1="384.90" y1="412.50" x2="387.50" y2="412.50" stroke="#222" stroke-width="1"/>
<text x="384.30" y="415.57" font-size="9.3" text-anchor="end" fill="#000" stroke="#000" stroke-width="0.18">4000</text>
<line x1="386.00" y1="425.50" x2="387.50" y2="425.50" stroke="#222" stroke-width="1"/>
<line x1="384.90" y1="439.50" x2="387.50" y2="439.50" stroke="#222" stroke-width="1"/>
<text x="384.30" y="442.33" font-size="9.3" text-anchor="end" fill="#000" stroke="#000" stroke-width="0.18">2000</text>
<line x1="386.00" y1="452.50" x2="387.50" y2="452.50" stroke="#222" stroke-width="1"/>
<line x1="384.90" y1="465.50" x2="387.50" y2="465.50" stroke="#222" stroke-width="1"/>
<text x="384.30" y="469.10" font-size="9.3" text-anchor="end" fill="#000" stroke="#000" stroke-width="0.18">0</text>
<line x1="387.50" y1="473.50" x2="387.50" y2="476.10" stroke="#222" stroke-width="1"/>
<text x="387.30" y="484.10" font-size="9.3" text-anchor="middle" fill="#000" stroke="#000" stroke-width="0.18">0</text>
<line x1="398.50" y1="473.50" x2="398.50" y2="475.00" stroke="#222" stroke-width="1"/>
<line x1="410.50" y1="473.50" x2="410.50" y2="476.10" stroke="#222" stroke-width="1"/>
<text x="410.54" y="484.10" font-size="9.3" text-anchor="middle" fill="#000" stroke="#000" stroke-width="0.18">1</text>
<line x1="422.50" y1="473.50" x2="422.50" y2="475.00" stroke="#222" stroke-width="1"/>
<line x1="433.50" y1="473.50" x2="433.50" y2="476.10" stroke="#222" stroke-width="1"/>
<text x="433.78" y="484.10" font-size="9.3" text-anchor="middle" fill="#000" stroke="#000" stroke-width="0.18">2</text>
<line x1="445.50" y1="473.50" x2="445.50" y2="475.00" stroke="#222" stroke-width="1"/>
<line x1="457.50" y1="473.50" x2="457.50" y2="476.10" stroke="#222" stroke-width="1"/>
<text x="457.02" y="484.10" font-size="9.3" text-anchor="middle" fill="#000" stroke="#000" stroke-width="0.18">3</text>
<line x1="468.50" y1="473.50" x2="468.50" y2="475.00" stroke="#222" stroke-width="1"/>
<line x1="480.50" y1="473.50" x2="480.50" y2="476.10" stroke="#222" stroke-width="1"/>
<text x="480.26" y="484.10" font-size="9.3" text-anchor="middle" fill="#000" stroke="#000" stroke-width="0.18">4</text>
<line x1="491.50" y1="473.50" x2="491.50" y2="475.00" stroke="#222" stroke-width="1"/>
<line x1="503.50" y1="473.50" x2="503.50" y2="476.10" stroke="#222" stroke-width="1"/>
<text x="503.50" y="484.10" font-size="9.3" text-anchor="middle" fill="#000" stroke="#000" stroke-width="0.18">5</text>
<text x="439.00" y="375.50" font-size="9.5" text-anchor="middle" fill="#000" stroke="#000" stroke-width="0.18">EC<tspan font-size="6" dy="2">50</tspan><tspan dy="-2"> curve fitting</tspan></text>
<text x="445.80" y="496.50" font-size="9.5" text-anchor="middle" fill="#000" stroke="#000" stroke-width="0.18">Log<tspan font-size="6" dy="2">10</tspan><tspan dy="-2"> Mn</tspan><tspan font-size="6" dy="-3.8">2+</tspan><tspan dy="3.8">(μM)</tspan></text>
<text x="0.00" y="0.00" font-size="9.5" text-anchor="middle" fill="#000" stroke="#000" stroke-width="0.18" transform="translate(356.50,417.30) rotate(-90)">IFN-β (pg/ml)</text>
<line x1="391.80" y1="386.20" x2="397.40" y2="386.20" stroke="#f68b2e" stroke-width="2.0"/>
<text x="399.90" y="389.20" font-size="7.5" text-anchor="start" fill="#000" stroke="#000" stroke-width="0.18">siPCSK9 0 μg</text>
<line x1="391.80" y1="396.90" x2="397.40" y2="396.90" stroke="#29a3b6" stroke-width="2.0"/>
<text x="399.90" y="399.90" font-size="7.5" text-anchor="start" fill="#000" stroke="#000" stroke-width="0.18">siPCSK9 2 μg</text>
<line x1="391.80" y1="407.80" x2="397.40" y2="407.80" stroke="#9a2fb0" stroke-width="2.0"/>
<text x="399.90" y="410.80" font-size="7.5" text-anchor="start" fill="#000" stroke="#000" stroke-width="0.18">siPCSK9 4 μg</text>
<text x="0.00" y="0.00" font-size="5.4" text-anchor="start" fill="#f57a2a" stroke="#f57a2a" stroke-width="0.18" transform="translate(390.80,422.00) scale(0.95,1)" font-weight="bold">EC<tspan font-size="3.8" dy="1">50</tspan><tspan dy="-1"> = 5.33 ± 0.72 mM</tspan></text>
<text x="0.00" y="0.00" font-size="5.4" text-anchor="start" fill="#2a8ca0" stroke="#2a8ca0" stroke-width="0.18" transform="translate(390.80,430.20) scale(0.95,1)" font-weight="bold">EC<tspan font-size="3.8" dy="1">50</tspan><tspan dy="-1"> = 0.87 ± 0.42 mM</tspan></text>
<text x="0.00" y="0.00" font-size="5.4" text-anchor="start" fill="#8e3a9e" stroke="#8e3a9e" stroke-width="0.18" transform="translate(390.80,437.80) scale(0.95,1)" font-weight="bold">EC<tspan font-size="3.8" dy="1">50</tspan><tspan dy="-1"> = 0.37 ± 0.17 mM</tspan></text>
<path d="M451.17,422.88 C452.99,420.60 458.77,413.00 462.12,409.20 C465.46,405.40 468.20,402.66 471.24,400.07 C474.28,397.49 478.84,394.75 480.36,393.69" fill="none" stroke="#9a2fb0" stroke-width="0.5" stroke-opacity="0.45" stroke-dasharray="1,1"/>
<path d="M458.47,423.80 C459.99,423.04 463.94,420.91 467.59,419.23 C471.24,417.56 478.24,414.67 480.36,413.76" fill="none" stroke="#9a2fb0" stroke-width="0.5" stroke-opacity="0.45" stroke-dasharray="1,1"/>
<path d="M462.12,419.23 C463.64,417.86 468.20,413.30 471.24,411.02 C474.28,408.74 478.84,406.46 480.36,405.55" fill="none" stroke="#29a3b6" stroke-width="0.5" stroke-opacity="0.45" stroke-dasharray="1,1"/>
<path d="M462.12,433.83 C463.64,432.83 468.20,429.33 471.24,427.81 C474.28,426.29 478.84,425.23 480.36,424.71" fill="none" stroke="#29a3b6" stroke-width="0.5" stroke-opacity="0.45" stroke-dasharray="1,1"/>
<path d="M456.64,456.64 C458.47,454.51 463.64,448.43 467.59,443.87 C471.55,439.31 478.24,431.70 480.36,429.27" fill="none" stroke="#f68b2e" stroke-width="0.5" stroke-opacity="0.45" stroke-dasharray="1,1"/>
<path d="M462.12,457.55 C463.64,457.71 468.20,458.01 471.24,458.47 C474.28,458.92 478.84,459.99 480.36,460.29" fill="none" stroke="#f68b2e" stroke-width="0.5" stroke-opacity="0.45" stroke-dasharray="1,1"/>
<path d="M387.30,465.77 C392.62,465.77 411.48,465.83 419.23,465.77 C426.99,465.71 429.12,465.64 433.83,465.40 C438.55,465.16 444.02,464.85 447.52,464.31 C451.02,463.76 452.38,463.09 454.82,462.12 C457.25,461.14 459.38,460.14 462.12,458.47 C464.85,456.79 468.20,454.27 471.24,452.08 C474.28,449.89 478.84,446.45 480.36,445.33" fill="none" stroke="#f68b2e" stroke-width="1.8"/>
<path d="M387.30,467.96 C390.64,467.74 402.05,467.10 407.37,466.68 C412.69,466.25 414.82,466.01 419.23,465.40 C423.64,464.79 430.18,464.25 433.83,463.03 C437.48,461.81 438.85,460.08 441.13,458.10 C443.41,456.13 445.24,454.30 447.52,451.17 C449.80,448.04 452.38,443.11 454.82,439.31 C457.25,435.50 459.38,431.55 462.12,428.36 C464.85,425.16 468.20,422.12 471.24,420.15 C474.28,418.17 478.84,417.10 480.36,416.50" fill="none" stroke="#29a3b6" stroke-width="1.8"/>
<path d="M387.30,469.42 C390.64,469.05 402.05,467.99 407.37,467.23 C412.69,466.47 416.04,465.55 419.23,464.85 C422.43,464.15 424.10,464.25 426.53,463.03 C428.97,461.81 431.55,459.99 433.83,457.55 C436.11,455.12 437.94,452.23 440.22,448.43 C442.50,444.63 445.09,439.15 447.52,434.74 C449.95,430.33 452.38,425.62 454.82,421.97 C457.25,418.32 459.38,415.43 462.12,412.85 C464.85,410.26 468.20,407.98 471.24,406.46 C474.28,404.94 478.84,404.18 480.36,403.72" fill="none" stroke="#9a2fb0" stroke-width="1.8"/>
<circle cx="387.30" cy="465.40" r="1.80" fill="none" stroke="#f68b2e" stroke-width="0.9"/>
<circle cx="420.51" cy="465.40" r="1.80" fill="none" stroke="#f68b2e" stroke-width="0.9"/>
<circle cx="427.08" cy="465.77" r="1.80" fill="none" stroke="#f68b2e" stroke-width="0.9"/>
<circle cx="433.83" cy="465.77" r="1.80" fill="none" stroke="#f68b2e" stroke-width="0.9"/>
<circle cx="441.13" cy="465.40" r="1.80" fill="none" stroke="#f68b2e" stroke-width="0.9"/>
<circle cx="447.88" cy="464.31" r="1.80" fill="none" stroke="#f68b2e" stroke-width="0.9"/>
<circle cx="454.82" cy="460.29" r="1.80" fill="none" stroke="#f68b2e" stroke-width="0.9"/>
<circle cx="462.12" cy="458.83" r="1.80" fill="none" stroke="#f68b2e" stroke-width="0.9"/>
<circle cx="420.51" cy="464.85" r="1.80" fill="none" stroke="#2b8a9a" stroke-width="0.9"/>
<rect x="419.21" y="463.55" width="2.60" height="2.60" fill="none" stroke="#2b8a9a" stroke-width="0.6"/>
<circle cx="427.08" cy="465.40" r="1.80" fill="none" stroke="#2b8a9a" stroke-width="0.9"/>
<rect x="425.78" y="464.10" width="2.60" height="2.60" fill="none" stroke="#2b8a9a" stroke-width="0.6"/>
<circle cx="433.83" cy="464.31" r="1.80" fill="none" stroke="#2b8a9a" stroke-width="0.9"/>
<rect x="432.53" y="463.01" width="2.60" height="2.60" fill="none" stroke="#2b8a9a" stroke-width="0.6"/>
<circle cx="441.13" cy="459.38" r="1.80" fill="none" stroke="#2b8a9a" stroke-width="0.9"/>
<rect x="439.83" y="458.08" width="2.60" height="2.60" fill="none" stroke="#2b8a9a" stroke-width="0.6"/>
<circle cx="441.13" cy="457.55" r="1.80" fill="none" stroke="#2b8a9a" stroke-width="0.9"/>
<rect x="439.83" y="456.25" width="2.60" height="2.60" fill="none" stroke="#2b8a9a" stroke-width="0.6"/>
<circle cx="447.88" cy="450.26" r="1.80" fill="none" stroke="#2b8a9a" stroke-width="0.9"/>
<rect x="446.58" y="448.96" width="2.60" height="2.60" fill="none" stroke="#2b8a9a" stroke-width="0.6"/>
<circle cx="447.88" cy="451.53" r="1.80" fill="none" stroke="#2b8a9a" stroke-width="0.9"/>
<rect x="446.58" y="450.23" width="2.60" height="2.60" fill="none" stroke="#2b8a9a" stroke-width="0.6"/>
<circle cx="454.82" cy="436.57" r="1.80" fill="none" stroke="#2b8a9a" stroke-width="0.9"/>
<rect x="453.52" y="435.27" width="2.60" height="2.60" fill="none" stroke="#2b8a9a" stroke-width="0.6"/>
<circle cx="462.12" cy="432.92" r="1.80" fill="none" stroke="#2b8a9a" stroke-width="0.9"/>
<rect x="460.82" y="431.62" width="2.60" height="2.60" fill="none" stroke="#2b8a9a" stroke-width="0.6"/>
<circle cx="462.12" cy="434.38" r="1.80" fill="none" stroke="#2b8a9a" stroke-width="0.9"/>
<rect x="460.82" y="433.08" width="2.60" height="2.60" fill="none" stroke="#2b8a9a" stroke-width="0.6"/>
<circle cx="420.51" cy="464.85" r="1.80" fill="none" stroke="#9a2fb0" stroke-width="0.9"/>
<rect x="419.21" y="463.55" width="2.60" height="2.60" fill="none" stroke="#9a2fb0" stroke-width="0.6"/>
<circle cx="427.08" cy="464.31" r="1.80" fill="none" stroke="#9a2fb0" stroke-width="0.9"/>
<rect x="425.78" y="463.01" width="2.60" height="2.60" fill="none" stroke="#9a2fb0" stroke-width="0.6"/>
<circle cx="433.83" cy="459.93" r="1.80" fill="none" stroke="#9a2fb0" stroke-width="0.9"/>
<rect x="432.53" y="458.63" width="2.60" height="2.60" fill="none" stroke="#9a2fb0" stroke-width="0.6"/>
<circle cx="441.13" cy="448.98" r="1.80" fill="none" stroke="#9a2fb0" stroke-width="0.9"/>
<rect x="439.83" y="447.68" width="2.60" height="2.60" fill="none" stroke="#9a2fb0" stroke-width="0.6"/>
<circle cx="441.13" cy="451.17" r="1.80" fill="none" stroke="#9a2fb0" stroke-width="0.9"/>
<rect x="439.83" y="449.87" width="2.60" height="2.60" fill="none" stroke="#9a2fb0" stroke-width="0.6"/>
<circle cx="447.88" cy="425.62" r="1.80" fill="none" stroke="#9a2fb0" stroke-width="0.9"/>
<rect x="446.58" y="424.32" width="2.60" height="2.60" fill="none" stroke="#9a2fb0" stroke-width="0.6"/>
<circle cx="447.88" cy="427.81" r="1.80" fill="none" stroke="#9a2fb0" stroke-width="0.9"/>
<rect x="446.58" y="426.51" width="2.60" height="2.60" fill="none" stroke="#9a2fb0" stroke-width="0.6"/>
<circle cx="454.82" cy="418.69" r="1.80" fill="none" stroke="#9a2fb0" stroke-width="0.9"/>
<rect x="453.52" y="417.39" width="2.60" height="2.60" fill="none" stroke="#9a2fb0" stroke-width="0.6"/>
<circle cx="454.82" cy="419.78" r="1.80" fill="none" stroke="#9a2fb0" stroke-width="0.9"/>
<rect x="453.52" y="418.48" width="2.60" height="2.60" fill="none" stroke="#9a2fb0" stroke-width="0.6"/>
<circle cx="462.12" cy="419.23" r="1.80" fill="none" stroke="#9a2fb0" stroke-width="0.9"/>
<rect x="460.82" y="417.93" width="2.60" height="2.60" fill="none" stroke="#9a2fb0" stroke-width="0.6"/>
<circle cx="462.12" cy="421.06" r="1.80" fill="none" stroke="#9a2fb0" stroke-width="0.9"/>
<rect x="460.82" y="419.76" width="2.60" height="2.60" fill="none" stroke="#9a2fb0" stroke-width="0.6"/>
<line x1="489.50" y1="405.50" x2="489.50" y2="431.50" stroke="#222" stroke-width="0.9"/>
<line x1="486.80" y1="405.50" x2="489.90" y2="405.50" stroke="#222" stroke-width="0.9"/>
<line x1="486.80" y1="431.50" x2="489.90" y2="431.50" stroke="#222" stroke-width="0.9"/>
<line x1="484.90" y1="416.50" x2="484.90" y2="446.10" stroke="#8a8a8a" stroke-width="1.3"/>
<text x="0.00" y="0.00" font-size="6.3" text-anchor="middle" fill="#000" stroke="#000" stroke-width="0.18" transform="translate(494.20,417.50) rotate(90)">p &lt; 0.0001</text>
<line x1="558.50" y1="384.10" x2="558.50" y2="472.00" stroke="#222" stroke-width="1"/>
<line x1="558.00" y1="471.50" x2="674.10" y2="471.50" stroke="#222" stroke-width="1"/>
<line x1="555.90" y1="385.50" x2="558.50" y2="385.50" stroke="#222" stroke-width="1"/>
<text x="555.20" y="388.40" font-size="9.3" text-anchor="end" fill="#000" stroke="#000" stroke-width="0.18">6000</text>
<line x1="557.00" y1="398.50" x2="558.50" y2="398.50" stroke="#222" stroke-width="1"/>
<line x1="555.90" y1="411.50" x2="558.50" y2="411.50" stroke="#222" stroke-width="1"/>
<text x="555.20" y="415.00" font-size="9.3" text-anchor="end" fill="#000" stroke="#000" stroke-width="0.18">4000</text>
<line x1="557.00" y1="425.50" x2="558.50" y2="425.50" stroke="#222" stroke-width="1"/>
<line x1="555.90" y1="438.50" x2="558.50" y2="438.50" stroke="#222" stroke-width="1"/>
<text x="555.20" y="441.60" font-size="9.3" text-anchor="end" fill="#000" stroke="#000" stroke-width="0.18">2000</text>
<line x1="557.00" y1="451.50" x2="558.50" y2="451.50" stroke="#222" stroke-width="1"/>
<line x1="555.90" y1="464.50" x2="558.50" y2="464.50" stroke="#222" stroke-width="1"/>
<text x="555.20" y="468.20" font-size="9.3" text-anchor="end" fill="#000" stroke="#000" stroke-width="0.18">0</text>
<line x1="558.50" y1="471.50" x2="558.50" y2="474.10" stroke="#222" stroke-width="1"/>
<text x="558.20" y="482.10" font-size="9.3" text-anchor="middle" fill="#000" stroke="#000" stroke-width="0.18">0</text>
<line x1="569.50" y1="471.50" x2="569.50" y2="473.00" stroke="#222" stroke-width="1"/>
<line x1="581.50" y1="471.50" x2="581.50" y2="474.10" stroke="#222" stroke-width="1"/>
<text x="581.38" y="482.10" font-size="9.3" text-anchor="middle" fill="#000" stroke="#000" stroke-width="0.18">1</text>
<line x1="592.50" y1="471.50" x2="592.50" y2="473.00" stroke="#222" stroke-width="1"/>
<line x1="604.50" y1="471.50" x2="604.50" y2="474.10" stroke="#222" stroke-width="1"/>
<text x="604.56" y="482.10" font-size="9.3" text-anchor="middle" fill="#000" stroke="#000" stroke-width="0.18">2</text>
<line x1="616.50" y1="471.50" x2="616.50" y2="473.00" stroke="#222" stroke-width="1"/>
<line x1="627.50" y1="471.50" x2="627.50" y2="474.10" stroke="#222" stroke-width="1"/>
<text x="627.74" y="482.10" font-size="9.3" text-anchor="middle" fill="#000" stroke="#000" stroke-width="0.18">3</text>
<line x1="639.50" y1="471.50" x2="639.50" y2="473.00" stroke="#222" stroke-width="1"/>
<line x1="650.50" y1="471.50" x2="650.50" y2="474.10" stroke="#222" stroke-width="1"/>
<text x="650.92" y="482.10" font-size="9.3" text-anchor="middle" fill="#000" stroke="#000" stroke-width="0.18">4</text>
<line x1="662.50" y1="471.50" x2="662.50" y2="473.00" stroke="#222" stroke-width="1"/>
<line x1="674.50" y1="471.50" x2="674.50" y2="474.10" stroke="#222" stroke-width="1"/>
<text x="674.10" y="482.10" font-size="9.3" text-anchor="middle" fill="#000" stroke="#000" stroke-width="0.18">5</text>
<text x="608.80" y="375.50" font-size="9.5" text-anchor="middle" fill="#000" stroke="#000" stroke-width="0.18">EC<tspan font-size="6" dy="2">50</tspan><tspan dy="-2"> curve fitting</tspan></text>
<text x="617.20" y="496.50" font-size="9.5" text-anchor="middle" fill="#000" stroke="#000" stroke-width="0.18">Log<tspan font-size="6" dy="2">10</tspan><tspan dy="-2"> Mn</tspan><tspan font-size="6" dy="-3.8">2+</tspan><tspan dy="3.8">(μM)</tspan></text>
<text x="0.00" y="0.00" font-size="9.5" text-anchor="middle" fill="#000" stroke="#000" stroke-width="0.18" transform="translate(532.50,417.30) rotate(-90)">IFN-β (pg/ml)</text>
<line x1="562.40" y1="386.20" x2="568.00" y2="386.20" stroke="#f57a2a" stroke-width="2.0"/>
<text x="570.50" y="389.20" font-size="7.5" text-anchor="start" fill="#000" stroke="#000" stroke-width="0.18">siCtrl 0 μg</text>
<line x1="562.40" y1="396.90" x2="568.00" y2="396.90" stroke="#29a3b6" stroke-width="2.0"/>
<text x="570.50" y="399.90" font-size="7.5" text-anchor="start" fill="#000" stroke="#000" stroke-width="0.18">siCtrl 2 μg</text>
<line x1="562.40" y1="407.80" x2="568.00" y2="407.80" stroke="#9a2fb0" stroke-width="2.0"/>
<text x="570.50" y="410.80" font-size="7.5" text-anchor="start" fill="#000" stroke="#000" stroke-width="0.18">siCtrl 4 μg</text>
<text x="0.00" y="0.00" font-size="5.4" text-anchor="start" fill="#f57a2a" stroke="#f57a2a" stroke-width="0.18" transform="translate(563.70,422.00) scale(0.95,1)" font-weight="bold">EC<tspan font-size="3.8" dy="1">50</tspan><tspan dy="-1"> = 5.33 ± 0.72 mM</tspan></text>
<text x="0.00" y="0.00" font-size="5.4" text-anchor="start" fill="#2a8ca0" stroke="#2a8ca0" stroke-width="0.18" transform="translate(563.70,430.20) scale(0.95,1)" font-weight="bold">EC<tspan font-size="3.8" dy="1">50</tspan><tspan dy="-1"> = 4.11 ± 0.98 mM</tspan></text>
<text x="0.00" y="0.00" font-size="5.4" text-anchor="start" fill="#8e3a9e" stroke="#8e3a9e" stroke-width="0.18" transform="translate(563.70,437.80) scale(0.95,1)" font-weight="bold">EC<tspan font-size="3.8" dy="1">50</tspan><tspan dy="-1"> = 3.61 ± 2.84 mM</tspan></text>
<path d="M630.29,458.47 C632.12,456.34 637.68,450.56 641.24,445.69 C644.80,440.83 649.91,432.01 651.64,429.27" fill="none" stroke="#f57a2a" stroke-width="0.5" stroke-opacity="0.5" stroke-dasharray="1,1"/>
<path d="M633.94,460.29 C635.46,459.84 640.12,457.55 643.07,457.55 C646.02,457.55 650.21,459.84 651.64,460.29" fill="none" stroke="#e04a2a" stroke-width="0.5" stroke-opacity="0.5" stroke-dasharray="1,1"/>
<path d="M632.12,454.82 C633.94,453.60 639.81,450.26 643.07,447.52 C646.32,444.78 650.21,439.91 651.64,438.39" fill="none" stroke="#9a2fb0" stroke-width="0.5" stroke-opacity="0.5" stroke-dasharray="1,1"/>
<path d="M632.12,457.55 C633.94,456.49 639.81,453.45 643.07,451.17 C646.32,448.89 650.21,445.09 651.64,443.87" fill="none" stroke="#29a3b6" stroke-width="0.5" stroke-opacity="0.5" stroke-dasharray="1,1"/>
<line x1="558.20" y1="470.60" x2="651.60" y2="470.60" stroke="#8a6ab0" stroke-width="0.5" stroke-opacity="0.5" stroke-dasharray="1,1"/>
<path d="M558.21,466.68 C565.97,466.28 593.95,465.22 604.74,464.31 C615.54,463.39 618.43,462.33 622.99,461.20 C627.55,460.08 628.47,459.08 632.12,457.55 C635.77,456.03 641.70,453.45 644.89,452.08 C648.08,450.71 650.21,449.80 651.28,449.34" fill="none" stroke="#9a2fb0" stroke-width="1.6"/>
<path d="M558.21,466.13 C565.97,465.83 593.95,465.04 604.74,464.31 C615.54,463.58 618.43,462.73 622.99,461.75 C627.55,460.78 628.47,460.08 632.12,458.47 C635.77,456.86 641.70,453.66 644.89,452.08 C648.08,450.50 650.21,449.50 651.28,448.98" fill="none" stroke="#2a86b8" stroke-width="1.6"/>
<path d="M558.21,465.77 C562.93,465.61 578.74,465.16 586.50,464.85 C594.25,464.55 599.27,464.40 604.74,463.94 C610.22,463.49 614.78,462.73 619.34,462.12 C623.91,461.51 627.86,462.12 632.12,460.29 C636.37,458.47 641.70,453.75 644.89,451.17 C648.08,448.58 650.21,445.85 651.28,444.78" fill="none" stroke="#f57a2a" stroke-width="1.9"/>
<circle cx="558.76" cy="464.31" r="2.10" fill="#c8906a" stroke="#9a6a5a" stroke-width="0.8" fill-opacity="0.75"/>
<circle cx="591.06" cy="464.31" r="2.10" fill="#c8906a" stroke="#9a6a5a" stroke-width="0.8" fill-opacity="0.75"/>
<circle cx="597.81" cy="464.85" r="2.10" fill="#c8906a" stroke="#9a6a5a" stroke-width="0.8" fill-opacity="0.75"/>
<circle cx="604.74" cy="464.85" r="2.10" fill="#c8906a" stroke="#9a6a5a" stroke-width="0.8" fill-opacity="0.75"/>
<circle cx="612.04" cy="464.85" r="2.10" fill="#c8906a" stroke="#9a6a5a" stroke-width="0.8" fill-opacity="0.75"/>
<circle cx="619.34" cy="464.31" r="2.10" fill="#c8906a" stroke="#9a6a5a" stroke-width="0.8" fill-opacity="0.75"/>
<circle cx="626.64" cy="460.29" r="2.10" fill="#c8906a" stroke="#9a6a5a" stroke-width="0.8" fill-opacity="0.75"/>
<circle cx="633.03" cy="458.47" r="2.10" fill="#c8906a" stroke="#9a6a5a" stroke-width="0.8" fill-opacity="0.75"/>
<circle cx="626.64" cy="458.10" r="2.40" fill="#6a5ab8" stroke="#4a40a0" stroke-width="0.8" fill-opacity="0.8"/>
<circle cx="633.03" cy="457.55" r="2.40" fill="#6a5ab8" stroke="#4a40a0" stroke-width="0.8" fill-opacity="0.8"/>
<line x1="653.50" y1="442.00" x2="653.50" y2="450.30" stroke="#222" stroke-width="1"/>
<text x="0.00" y="0.00" font-size="7.3" text-anchor="middle" fill="#000" stroke="#000" stroke-width="0.18" transform="translate(657.30,447.20) rotate(90)">p &gt; 0.05</text>
<text x="103.00" y="524.80" font-size="9.3" text-anchor="middle" fill="#000" stroke="#000" stroke-width="0.18">Raw264.7-Lucia ISG</text>
<rect x="66.10" y="606.10" width="13.10" height="10.40" fill="#e9e9e9" stroke="#b5b5b5" stroke-width="0.9"/>
<rect x="87.80" y="602.90" width="13.10" height="13.60" fill="#e2f1f4" stroke="#3a9fb2" stroke-width="0.9"/>
<rect x="109.60" y="604.00" width="13.40" height="12.50" fill="#fdeee2" stroke="#f69040" stroke-width="0.9"/>
<rect x="130.80" y="572.90" width="13.80" height="43.60" fill="#f7ebf8" stroke="#c898d2" stroke-width="0.9"/>
<line x1="58.50" y1="536.50" x2="58.50" y2="617.00" stroke="#222" stroke-width="1"/>
<line x1="58.00" y1="616.50" x2="152.00" y2="616.50" stroke="#222" stroke-width="1"/>
<line x1="55.90" y1="538.50" x2="58.50" y2="538.50" stroke="#222" stroke-width="1"/>
<text x="55.00" y="542.10" font-size="9.8" text-anchor="end" fill="#000" stroke="#000" stroke-width="0.18">8</text>
<line x1="55.90" y1="558.50" x2="58.50" y2="558.50" stroke="#222" stroke-width="1"/>
<text x="55.00" y="561.60" font-size="9.8" text-anchor="end" fill="#000" stroke="#000" stroke-width="0.18">6</text>
<line x1="55.90" y1="577.50" x2="58.50" y2="577.50" stroke="#222" stroke-width="1"/>
<text x="55.00" y="581.10" font-size="9.8" text-anchor="end" fill="#000" stroke="#000" stroke-width="0.18">4</text>
<line x1="55.90" y1="597.50" x2="58.50" y2="597.50" stroke="#222" stroke-width="1"/>
<text x="55.00" y="600.50" font-size="9.8" text-anchor="end" fill="#000" stroke="#000" stroke-width="0.18">2</text>
<line x1="55.90" y1="616.50" x2="58.50" y2="616.50" stroke="#222" stroke-width="1"/>
<text x="55.00" y="619.90" font-size="9.8" text-anchor="end" fill="#000" stroke="#000" stroke-width="0.18">0</text>
<line x1="72.50" y1="616.50" x2="72.50" y2="618.90" stroke="#222" stroke-width="1"/>
<line x1="94.50" y1="616.50" x2="94.50" y2="618.90" stroke="#222" stroke-width="1"/>
<line x1="116.50" y1="616.50" x2="116.50" y2="618.90" stroke="#222" stroke-width="1"/>
<line x1="137.50" y1="616.50" x2="137.50" y2="618.90" stroke="#222" stroke-width="1"/>
<circle cx="68.00" cy="607.20" r="2.10" fill="#cfcfcf" stroke="#8a8a8a" stroke-width="0.95" fill-opacity="0.85"/>
<circle cx="72.50" cy="606.90" r="2.10" fill="#cfcfcf" stroke="#8a8a8a" stroke-width="0.95" fill-opacity="0.85"/>
<circle cx="77.00" cy="607.20" r="2.10" fill="#cfcfcf" stroke="#8a8a8a" stroke-width="0.95" fill-opacity="0.85"/>
<circle cx="89.80" cy="600.20" r="2.10" fill="#a8d8e2" stroke="#2f90a4" stroke-width="0.95" fill-opacity="0.85"/>
<circle cx="95.30" cy="603.40" r="2.10" fill="#a8d8e2" stroke="#2f90a4" stroke-width="0.95" fill-opacity="0.85"/>
<circle cx="99.50" cy="603.70" r="2.10" fill="#a8d8e2" stroke="#2f90a4" stroke-width="0.95" fill-opacity="0.85"/>
<circle cx="111.80" cy="602.10" r="2.10" fill="#fac39a" stroke="#f07a28" stroke-width="0.95" fill-opacity="0.85"/>
<circle cx="115.80" cy="603.70" r="2.10" fill="#fac39a" stroke="#f07a28" stroke-width="0.95" fill-opacity="0.85"/>
<circle cx="120.30" cy="606.10" r="2.10" fill="#fac39a" stroke="#f07a28" stroke-width="0.95" fill-opacity="0.85"/>
<circle cx="133.50" cy="573.20" r="2.10" fill="#ddb0e4" stroke="#a040b4" stroke-width="0.95" fill-opacity="0.85"/>
<circle cx="137.50" cy="570.00" r="2.10" fill="#ddb0e4" stroke="#a040b4" stroke-width="0.95" fill-opacity="0.85"/>
<circle cx="141.50" cy="576.10" r="2.10" fill="#ddb0e4" stroke="#a040b4" stroke-width="0.95" fill-opacity="0.85"/>
<path d="M72.20,599.20 L72.20,594.40 L94.60,594.40 L94.60,599.20" fill="none" stroke="#666" stroke-width="0.9"/>
<text x="0.00" y="0.00" font-size="8.7" text-anchor="middle" fill="#000" stroke="#000" stroke-width="0.18" transform="translate(83.00,591.20) scale(0.93,1)">p = 0.011</text>
<path d="M70.40,582.00 L70.40,577.20 L115.00,577.20 L115.00,582.00" fill="none" stroke="#666" stroke-width="0.9"/>
<text x="0.00" y="0.00" font-size="8.7" text-anchor="middle" fill="#000" stroke="#000" stroke-width="0.18" transform="translate(92.60,574.00) scale(0.93,1)">p = 0.086</text>
<path d="M95.40,563.50 L95.40,558.70 L138.00,558.70 L138.00,563.50" fill="none" stroke="#666" stroke-width="0.9"/>
<text x="0.00" y="0.00" font-size="8.7" text-anchor="middle" fill="#000" stroke="#000" stroke-width="0.18" transform="translate(116.20,555.50) scale(0.93,1)">p = 0.0001</text>
<path d="M116.20,545.60 L116.20,541.10 L138.00,541.10 L138.00,545.60" fill="none" stroke="#666" stroke-width="0.9"/>
<text x="0.00" y="0.00" font-size="8.7" text-anchor="middle" fill="#000" stroke="#000" stroke-width="0.18" transform="translate(126.80,537.80) scale(0.93,1)">p = 0.0001</text>
<text x="19.90" y="628.00" font-size="9.3" text-anchor="start" fill="#000" stroke="#000" stroke-width="0.18">Mn<tspan font-size="6.6" dy="-3.8">2+</tspan></text>
<text x="72.40" y="628.00" font-size="9" text-anchor="middle" fill="#000" stroke="#000" stroke-width="0.18">-</text>
<text x="94.30" y="627.70" font-size="9" text-anchor="middle" fill="#000" stroke="#000" stroke-width="0.18">+</text>
<text x="116.90" y="628.00" font-size="9" text-anchor="middle" fill="#000" stroke="#000" stroke-width="0.18">-</text>
<text x="137.00" y="627.70" font-size="9" text-anchor="middle" fill="#000" stroke="#000" stroke-width="0.18">+</text>
<text x="19.90" y="639.00" font-size="9.3" text-anchor="start" fill="#000" stroke="#000" stroke-width="0.18">siPCSK9</text>
<text x="72.40" y="639.00" font-size="9" text-anchor="middle" fill="#000" stroke="#000" stroke-width="0.18">-</text>
<text x="94.30" y="639.00" font-size="9" text-anchor="middle" fill="#000" stroke="#000" stroke-width="0.18">-</text>
<text x="116.90" y="638.70" font-size="9" text-anchor="middle" fill="#000" stroke="#000" stroke-width="0.18">+</text>
<text x="137.00" y="638.70" font-size="9" text-anchor="middle" fill="#000" stroke="#000" stroke-width="0.18">+</text>
<text x="266.70" y="524.80" font-size="10.2" text-anchor="middle" fill="#000" stroke="#000" stroke-width="0.18">THP1-Lucia ISG</text>
<rect x="231.60" y="614.10" width="13.40" height="3.40" fill="#e9e9e9" stroke="#b5b5b5" stroke-width="0.9"/>
<rect x="254.00" y="611.70" width="14.30" height="5.80" fill="#e2f1f4" stroke="#3a9fb2" stroke-width="0.9"/>
<rect x="277.30" y="613.00" width="14.00" height="4.50" fill="#fdeee2" stroke="#f69040" stroke-width="0.9"/>
<rect x="300.60" y="571.30" width="13.80" height="46.20" fill="#f7ebf8" stroke="#b356c3" stroke-width="0.9"/>
<line x1="306.90" y1="563.90" x2="306.90" y2="577.20" stroke="#b356c3" stroke-width="0.9"/>
<line x1="304.90" y1="563.90" x2="308.90" y2="563.90" stroke="#b356c3" stroke-width="0.9"/>
<line x1="304.90" y1="577.20" x2="308.90" y2="577.20" stroke="#b356c3" stroke-width="0.9"/>
<line x1="223.50" y1="541.00" x2="223.50" y2="618.00" stroke="#222" stroke-width="1"/>
<line x1="223.00" y1="617.50" x2="321.80" y2="617.50" stroke="#222" stroke-width="1"/>
<line x1="220.90" y1="550.50" x2="223.50" y2="550.50" stroke="#222" stroke-width="1"/>
<text x="220.30" y="553.80" font-size="9.8" text-anchor="end" fill="#000" stroke="#000" stroke-width="0.18">15</text>
<line x1="220.90" y1="572.50" x2="223.50" y2="572.50" stroke="#222" stroke-width="1"/>
<text x="220.30" y="575.80" font-size="9.8" text-anchor="end" fill="#000" stroke="#000" stroke-width="0.18">10</text>
<line x1="220.90" y1="594.50" x2="223.50" y2="594.50" stroke="#222" stroke-width="1"/>
<text x="220.30" y="598.30" font-size="9.8" text-anchor="end" fill="#000" stroke="#000" stroke-width="0.18">5</text>
<line x1="220.90" y1="617.50" x2="223.50" y2="617.50" stroke="#222" stroke-width="1"/>
<text x="220.30" y="620.70" font-size="9.8" text-anchor="end" fill="#000" stroke="#000" stroke-width="0.18">0</text>
<line x1="238.50" y1="617.50" x2="238.50" y2="619.90" stroke="#222" stroke-width="1"/>
<line x1="261.50" y1="617.50" x2="261.50" y2="619.90" stroke="#222" stroke-width="1"/>
<line x1="285.50" y1="617.50" x2="285.50" y2="619.90" stroke="#222" stroke-width="1"/>
<line x1="307.50" y1="617.50" x2="307.50" y2="619.90" stroke="#222" stroke-width="1"/>
<circle cx="233.50" cy="610.40" r="2.10" fill="#cfcfcf" stroke="#8a8a8a" stroke-width="0.95" fill-opacity="0.85"/>
<circle cx="237.20" cy="612.50" r="2.10" fill="#cfcfcf" stroke="#8a8a8a" stroke-width="0.95" fill-opacity="0.85"/>
<circle cx="240.40" cy="613.30" r="2.10" fill="#cfcfcf" stroke="#8a8a8a" stroke-width="0.95" fill-opacity="0.85"/>
<circle cx="243.60" cy="614.10" r="2.10" fill="#cfcfcf" stroke="#8a8a8a" stroke-width="0.95" fill-opacity="0.85"/>
<circle cx="256.40" cy="609.80" r="2.10" fill="#a8d8e2" stroke="#2f90a4" stroke-width="0.95" fill-opacity="0.85"/>
<circle cx="260.30" cy="611.70" r="2.10" fill="#a8d8e2" stroke="#2f90a4" stroke-width="0.95" fill-opacity="0.85"/>
<circle cx="262.90" cy="612.50" r="2.10" fill="#a8d8e2" stroke="#2f90a4" stroke-width="0.95" fill-opacity="0.85"/>
<circle cx="266.40" cy="612.50" r="2.10" fill="#a8d8e2" stroke="#2f90a4" stroke-width="0.95" fill-opacity="0.85"/>
<circle cx="279.60" cy="611.20" r="2.10" fill="#fac39a" stroke="#f07a28" stroke-width="0.95" fill-opacity="0.85"/>
<circle cx="284.10" cy="613.00" r="2.10" fill="#fac39a" stroke="#f07a28" stroke-width="0.95" fill-opacity="0.85"/>
<circle cx="289.20" cy="613.70" r="2.10" fill="#fac39a" stroke="#f07a28" stroke-width="0.95" fill-opacity="0.85"/>
<circle cx="306.90" cy="563.90" r="2.10" fill="#ddb0e4" stroke="#a040b4" stroke-width="0.95" fill-opacity="0.85"/>
<circle cx="303.30" cy="572.40" r="2.10" fill="#ddb0e4" stroke="#a040b4" stroke-width="0.95" fill-opacity="0.85"/>
<circle cx="311.40" cy="577.20" r="2.10" fill="#ddb0e4" stroke="#a040b4" stroke-width="0.95" fill-opacity="0.85"/>
<path d="M235.60,605.60 L235.60,603.70 L258.70,603.70 L258.70,605.60" fill="none" stroke="#666" stroke-width="0.9"/>
<text x="0.00" y="0.00" font-size="8.7" text-anchor="middle" fill="#000" stroke="#000" stroke-width="0.18" transform="translate(247.10,600.50) scale(0.93,1)">p = 0.028</text>
<path d="M235.60,590.80 L235.60,588.90 L282.40,588.90 L282.40,590.80" fill="none" stroke="#666" stroke-width="0.9"/>
<text x="0.00" y="0.00" font-size="8.7" text-anchor="middle" fill="#000" stroke="#000" stroke-width="0.18" transform="translate(258.80,585.70) scale(0.93,1)">p = 0.93</text>
<path d="M266.40,560.70 L266.40,558.70 L307.30,558.70 L307.30,560.70" fill="none" stroke="#666" stroke-width="0.9"/>
<text x="0.00" y="0.00" font-size="8.7" text-anchor="middle" fill="#000" stroke="#000" stroke-width="0.18" transform="translate(287.00,555.80) scale(0.93,1)">p = 0.0004</text>
<path d="M282.40,547.50 L282.40,545.60 L305.70,545.60 L305.70,547.50" fill="none" stroke="#666" stroke-width="0.9"/>
<text x="0.00" y="0.00" font-size="8.7" text-anchor="middle" fill="#000" stroke="#000" stroke-width="0.18" transform="translate(293.70,542.70) scale(0.93,1)">p = 0.0004</text>
<text x="188.30" y="627.00" font-size="9.3" text-anchor="start" fill="#000" stroke="#000" stroke-width="0.18">Mn<tspan font-size="6.6" dy="-3.8">2+</tspan></text>
<text x="238.00" y="627.00" font-size="9" text-anchor="middle" fill="#000" stroke="#000" stroke-width="0.18">-</text>
<text x="261.50" y="626.70" font-size="9" text-anchor="middle" fill="#000" stroke="#000" stroke-width="0.18">+</text>
<text x="285.50" y="626.70" font-size="9" text-anchor="middle" fill="#000" stroke="#000" stroke-width="0.18">+</text>
<text x="307.70" y="626.70" font-size="9" text-anchor="middle" fill="#000" stroke="#000" stroke-width="0.18">+</text>
<text x="188.30" y="637.40" font-size="9.3" text-anchor="start" fill="#000" stroke="#000" stroke-width="0.18">siCtrl</text>
<text x="238.00" y="637.40" font-size="9" text-anchor="middle" fill="#000" stroke="#000" stroke-width="0.18">-</text>
<text x="261.50" y="637.40" font-size="9" text-anchor="middle" fill="#000" stroke="#000" stroke-width="0.18">-</text>
<text x="285.50" y="637.10" font-size="9" text-anchor="middle" fill="#000" stroke="#000" stroke-width="0.18">+</text>
<text x="307.70" y="637.40" font-size="9" text-anchor="middle" fill="#000" stroke="#000" stroke-width="0.18">-</text>
<text x="188.30" y="647.70" font-size="9.3" text-anchor="start" fill="#000" stroke="#000" stroke-width="0.18">siPCSK9</text>
<text x="238.00" y="647.70" font-size="9" text-anchor="middle" fill="#000" stroke="#000" stroke-width="0.18">-</text>
<text x="261.50" y="647.70" font-size="9" text-anchor="middle" fill="#000" stroke="#000" stroke-width="0.18">-</text>
<text x="285.50" y="647.70" font-size="9" text-anchor="middle" fill="#000" stroke="#000" stroke-width="0.18">-</text>
<text x="307.70" y="647.40" font-size="9" text-anchor="middle" fill="#000" stroke="#000" stroke-width="0.18">+</text>
<text x="437.20" y="524.80" font-size="10.2" text-anchor="middle" fill="#000" stroke="#000" stroke-width="0.18">THP1-Lucia ISG</text>
<rect x="417.80" y="612.50" width="12.80" height="3.00" fill="#e2f1f4" stroke="#3a9fb2" stroke-width="0.9"/>
<rect x="439.60" y="612.50" width="13.00" height="3.00" fill="#fdeee2" stroke="#f69040" stroke-width="0.9"/>
<rect x="461.60" y="574.00" width="13.80" height="41.50" fill="#f7ebf8" stroke="#b356c3" stroke-width="0.9"/>
<line x1="468.00" y1="567.10" x2="468.00" y2="579.60" stroke="#b356c3" stroke-width="0.9"/>
<line x1="466.00" y1="567.10" x2="470.00" y2="567.10" stroke="#b356c3" stroke-width="0.9"/>
<line x1="466.00" y1="579.60" x2="470.00" y2="579.60" stroke="#b356c3" stroke-width="0.9"/>
<line x1="388.50" y1="540.30" x2="388.50" y2="616.00" stroke="#222" stroke-width="1"/>
<line x1="388.00" y1="615.50" x2="482.80" y2="615.50" stroke="#222" stroke-width="1"/>
<line x1="385.90" y1="553.50" x2="388.50" y2="553.50" stroke="#222" stroke-width="1"/>
<text x="385.00" y="557.30" font-size="9.8" text-anchor="end" fill="#000" stroke="#000" stroke-width="0.18">200</text>
<line x1="385.90" y1="568.50" x2="388.50" y2="568.50" stroke="#222" stroke-width="1"/>
<text x="385.00" y="572.10" font-size="9.8" text-anchor="end" fill="#000" stroke="#000" stroke-width="0.18">150</text>
<line x1="385.90" y1="584.50" x2="388.50" y2="584.50" stroke="#222" stroke-width="1"/>
<text x="385.00" y="587.50" font-size="9.8" text-anchor="end" fill="#000" stroke="#000" stroke-width="0.18">100</text>
<line x1="385.90" y1="599.50" x2="388.50" y2="599.50" stroke="#222" stroke-width="1"/>
<text x="385.00" y="602.60" font-size="9.8" text-anchor="end" fill="#000" stroke="#000" stroke-width="0.18">50</text>
<line x1="385.90" y1="615.50" x2="388.50" y2="615.50" stroke="#222" stroke-width="1"/>
<text x="385.00" y="618.70" font-size="9.8" text-anchor="end" fill="#000" stroke="#000" stroke-width="0.18">0</text>
<line x1="402.50" y1="615.50" x2="402.50" y2="617.90" stroke="#222" stroke-width="1"/>
<line x1="424.50" y1="615.50" x2="424.50" y2="617.90" stroke="#222" stroke-width="1"/>
<line x1="447.50" y1="615.50" x2="447.50" y2="617.90" stroke="#222" stroke-width="1"/>
<line x1="468.50" y1="615.50" x2="468.50" y2="617.90" stroke="#222" stroke-width="1"/>
<circle cx="398.00" cy="614.90" r="2.10" fill="#cfcfcf" stroke="#8a8a8a" stroke-width="0.95" fill-opacity="0.85"/>
<circle cx="402.80" cy="614.90" r="2.10" fill="#cfcfcf" stroke="#8a8a8a" stroke-width="0.95" fill-opacity="0.85"/>
<circle cx="407.30" cy="614.90" r="2.10" fill="#cfcfcf" stroke="#8a8a8a" stroke-width="0.95" fill-opacity="0.85"/>
<circle cx="419.30" cy="612.50" r="2.10" fill="#a8d8e2" stroke="#2f90a4" stroke-width="0.95" fill-opacity="0.85"/>
<circle cx="423.00" cy="613.00" r="2.10" fill="#a8d8e2" stroke="#2f90a4" stroke-width="0.95" fill-opacity="0.85"/>
<circle cx="426.60" cy="613.00" r="2.10" fill="#a8d8e2" stroke="#2f90a4" stroke-width="0.95" fill-opacity="0.85"/>
<circle cx="429.50" cy="613.30" r="2.10" fill="#a8d8e2" stroke="#2f90a4" stroke-width="0.95" fill-opacity="0.85"/>
<circle cx="441.30" cy="612.50" r="2.10" fill="#fac39a" stroke="#f07a28" stroke-width="0.95" fill-opacity="0.85"/>
<circle cx="445.50" cy="613.00" r="2.10" fill="#fac39a" stroke="#f07a28" stroke-width="0.95" fill-opacity="0.85"/>
<circle cx="450.70" cy="614.10" r="2.10" fill="#fac39a" stroke="#f07a28" stroke-width="0.95" fill-opacity="0.85"/>
<circle cx="468.00" cy="567.10" r="2.10" fill="#ddb0e4" stroke="#a040b4" stroke-width="0.95" fill-opacity="0.85"/>
<circle cx="463.80" cy="574.80" r="2.10" fill="#ddb0e4" stroke="#a040b4" stroke-width="0.95" fill-opacity="0.85"/>
<circle cx="471.50" cy="578.80" r="2.10" fill="#ddb0e4" stroke="#a040b4" stroke-width="0.95" fill-opacity="0.85"/>
<path d="M401.40,607.60 L401.40,603.40 L426.60,603.40 L426.60,607.60" fill="none" stroke="#666" stroke-width="0.9"/>
<text x="0.00" y="0.00" font-size="8.7" text-anchor="middle" fill="#000" stroke="#000" stroke-width="0.18" transform="translate(414.00,600.50) scale(0.93,1)">p = 0.004</text>
<path d="M402.50,593.20 L402.50,589.20 L445.50,589.20 L445.50,593.20" fill="none" stroke="#666" stroke-width="0.9"/>
<text x="0.00" y="0.00" font-size="8.7" text-anchor="middle" fill="#000" stroke="#000" stroke-width="0.18" transform="translate(423.70,586.80) scale(0.93,1)">p = 0.041</text>
<path d="M424.60,562.70 L424.60,558.70 L468.30,558.70 L468.30,562.70" fill="none" stroke="#666" stroke-width="0.9"/>
<text x="0.00" y="0.00" font-size="8.7" text-anchor="middle" fill="#000" stroke="#000" stroke-width="0.18" transform="translate(446.60,555.80) scale(0.93,1)">p = 0.0003</text>
<path d="M442.30,546.70 L442.30,544.00 L468.30,544.00 L468.30,546.70" fill="none" stroke="#666" stroke-width="0.9"/>
<text x="0.00" y="0.00" font-size="8.7" text-anchor="middle" fill="#000" stroke="#000" stroke-width="0.18" transform="translate(455.20,540.70) scale(0.93,1)">p = 0.0003</text>
<text x="344.80" y="627.60" font-size="9.3" text-anchor="start" fill="#000" stroke="#000" stroke-width="0.18">c-di-AMP</text>
<text x="402.80" y="627.60" font-size="9" text-anchor="middle" fill="#000" stroke="#000" stroke-width="0.18">-</text>
<text x="424.30" y="627.30" font-size="9" text-anchor="middle" fill="#000" stroke="#000" stroke-width="0.18">+</text>
<text x="447.30" y="627.30" font-size="9" text-anchor="middle" fill="#000" stroke="#000" stroke-width="0.18">+</text>
<text x="468.70" y="627.30" font-size="9" text-anchor="middle" fill="#000" stroke="#000" stroke-width="0.18">+</text>
<text x="344.80" y="637.80" font-size="9.3" text-anchor="start" fill="#000" stroke="#000" stroke-width="0.18">siCtrl</text>
<text x="402.80" y="637.80" font-size="9" text-anchor="middle" fill="#000" stroke="#000" stroke-width="0.18">-</text>
<text x="424.30" y="637.80" font-size="9" text-anchor="middle" fill="#000" stroke="#000" stroke-width="0.18">-</text>
<text x="447.30" y="637.50" font-size="9" text-anchor="middle" fill="#000" stroke="#000" stroke-width="0.18">+</text>
<text x="468.70" y="637.80" font-size="9" text-anchor="middle" fill="#000" stroke="#000" stroke-width="0.18">-</text>
<text x="344.80" y="648.10" font-size="9.3" text-anchor="start" fill="#000" stroke="#000" stroke-width="0.18">siPCSK9</text>
<text x="402.80" y="648.10" font-size="9" text-anchor="middle" fill="#000" stroke="#000" stroke-width="0.18">-</text>
<text x="424.30" y="648.10" font-size="9" text-anchor="middle" fill="#000" stroke="#000" stroke-width="0.18">-</text>
<text x="447.30" y="648.10" font-size="9" text-anchor="middle" fill="#000" stroke="#000" stroke-width="0.18">-</text>
<text x="468.70" y="647.80" font-size="9" text-anchor="middle" fill="#000" stroke="#000" stroke-width="0.18">+</text>
<text x="607.50" y="524.80" font-size="10.2" text-anchor="middle" fill="#000" stroke="#000" stroke-width="0.18">THP1-Lucia ISG</text>
<rect x="610.70" y="609.80" width="13.50" height="5.70" fill="#fdeee2" stroke="#f69040" stroke-width="0.9"/>
<rect x="633.20" y="568.40" width="13.50" height="47.10" fill="#f7ebf8" stroke="#b356c3" stroke-width="0.9"/>
<line x1="640.30" y1="560.70" x2="640.30" y2="576.40" stroke="#b356c3" stroke-width="0.9"/>
<line x1="638.30" y1="560.70" x2="642.30" y2="560.70" stroke="#b356c3" stroke-width="0.9"/>
<line x1="638.30" y1="576.40" x2="642.30" y2="576.40" stroke="#b356c3" stroke-width="0.9"/>
<line x1="558.50" y1="541.10" x2="558.50" y2="616.00" stroke="#222" stroke-width="1"/>
<line x1="558.00" y1="615.50" x2="654.70" y2="615.50" stroke="#222" stroke-width="1"/>
<line x1="555.90" y1="542.50" x2="558.50" y2="542.50" stroke="#222" stroke-width="1"/>
<text x="555.60" y="545.70" font-size="9.8" text-anchor="end" fill="#000" stroke="#000" stroke-width="0.18">300</text>
<line x1="555.90" y1="566.50" x2="558.50" y2="566.50" stroke="#222" stroke-width="1"/>
<text x="555.60" y="569.80" font-size="9.8" text-anchor="end" fill="#000" stroke="#000" stroke-width="0.18">200</text>
<line x1="555.90" y1="590.50" x2="558.50" y2="590.50" stroke="#222" stroke-width="1"/>
<text x="555.60" y="594.20" font-size="9.8" text-anchor="end" fill="#000" stroke="#000" stroke-width="0.18">100</text>
<line x1="555.90" y1="615.50" x2="558.50" y2="615.50" stroke="#222" stroke-width="1"/>
<text x="555.60" y="618.70" font-size="9.8" text-anchor="end" fill="#000" stroke="#000" stroke-width="0.18">0</text>
<line x1="572.50" y1="615.50" x2="572.50" y2="617.90" stroke="#222" stroke-width="1"/>
<line x1="595.50" y1="615.50" x2="595.50" y2="617.90" stroke="#222" stroke-width="1"/>
<line x1="617.50" y1="615.50" x2="617.50" y2="617.90" stroke="#222" stroke-width="1"/>
<line x1="640.50" y1="615.50" x2="640.50" y2="617.90" stroke="#222" stroke-width="1"/>
<circle cx="569.00" cy="615.30" r="2.10" fill="#cfcfcf" stroke="#8a8a8a" stroke-width="0.95" fill-opacity="0.85"/>
<circle cx="573.30" cy="615.30" r="2.10" fill="#cfcfcf" stroke="#8a8a8a" stroke-width="0.95" fill-opacity="0.85"/>
<circle cx="577.60" cy="615.30" r="2.10" fill="#cfcfcf" stroke="#8a8a8a" stroke-width="0.95" fill-opacity="0.85"/>
<circle cx="613.00" cy="611.40" r="2.10" fill="#fac39a" stroke="#f07a28" stroke-width="0.95" fill-opacity="0.85"/>
<circle cx="617.80" cy="611.40" r="2.10" fill="#fac39a" stroke="#f07a28" stroke-width="0.95" fill-opacity="0.85"/>
<circle cx="622.60" cy="611.70" r="2.10" fill="#fac39a" stroke="#f07a28" stroke-width="0.95" fill-opacity="0.85"/>
<circle cx="636.40" cy="562.70" r="2.10" fill="#ddb0e4" stroke="#a040b4" stroke-width="0.95" fill-opacity="0.85"/>
<circle cx="644.70" cy="565.10" r="2.10" fill="#ddb0e4" stroke="#a040b4" stroke-width="0.95" fill-opacity="0.85"/>
<circle cx="640.30" cy="576.70" r="2.10" fill="#ddb0e4" stroke="#a040b4" stroke-width="0.95" fill-opacity="0.85"/>
<path d="M573.80,609.80 L573.80,607.20 L597.40,607.20 L597.40,609.80" fill="none" stroke="#666" stroke-width="0.9"/>
<text x="0.00" y="0.00" font-size="8.7" text-anchor="middle" fill="#000" stroke="#000" stroke-width="0.18" transform="translate(585.00,604.00) scale(0.93,1)">p = 0.01</text>
<path d="M574.40,593.70 L574.40,591.20 L616.60,591.20 L616.60,593.70" fill="none" stroke="#666" stroke-width="0.9"/>
<text x="0.00" y="0.00" font-size="8.7" text-anchor="middle" fill="#000" stroke="#000" stroke-width="0.18" transform="translate(595.30,588.40) scale(0.93,1)">p = 0.001</text>
<path d="M595.40,559.00 L595.40,556.30 L640.70,556.30 L640.70,559.00" fill="none" stroke="#666" stroke-width="0.9"/>
<text x="0.00" y="0.00" font-size="8.7" text-anchor="middle" fill="#000" stroke="#000" stroke-width="0.18" transform="translate(618.30,553.60) scale(0.93,1)">p = 0.0004</text>
<path d="M616.60,545.90 L616.60,543.50 L639.60,543.50 L639.60,545.90" fill="none" stroke="#666" stroke-width="0.9"/>
<text x="0.00" y="0.00" font-size="8.7" text-anchor="middle" fill="#000" stroke="#000" stroke-width="0.18" transform="translate(628.20,540.30) scale(0.93,1)">p = 0.0006</text>
<text x="518.80" y="627.60" font-size="9.3" text-anchor="start" fill="#000" stroke="#000" stroke-width="0.18">cGAMP</text>
<text x="572.80" y="627.60" font-size="9" text-anchor="middle" fill="#000" stroke="#000" stroke-width="0.18">-</text>
<text x="595.40" y="627.30" font-size="9" text-anchor="middle" fill="#000" stroke="#000" stroke-width="0.18">+</text>
<text x="617.70" y="627.30" font-size="9" text-anchor="middle" fill="#000" stroke="#000" stroke-width="0.18">+</text>
<text x="640.30" y="627.30" font-size="9" text-anchor="middle" fill="#000" stroke="#000" stroke-width="0.18">+</text>
<text x="518.80" y="637.40" font-size="9.3" text-anchor="start" fill="#000" stroke="#000" stroke-width="0.18">siCtrl</text>
<text x="572.80" y="637.40" font-size="9" text-anchor="middle" fill="#000" stroke="#000" stroke-width="0.18">-</text>
<text x="595.40" y="637.40" font-size="9" text-anchor="middle" fill="#000" stroke="#000" stroke-width="0.18">-</text>
<text x="617.70" y="637.10" font-size="9" text-anchor="middle" fill="#000" stroke="#000" stroke-width="0.18">+</text>
<text x="640.30" y="637.40" font-size="9" text-anchor="middle" fill="#000" stroke="#000" stroke-width="0.18">-</text>
<text x="518.80" y="648.10" font-size="9.3" text-anchor="start" fill="#000" stroke="#000" stroke-width="0.18">siPCSK9</text>
<text x="572.80" y="648.10" font-size="9" text-anchor="middle" fill="#000" stroke="#000" stroke-width="0.18">-</text>
<text x="595.40" y="648.10" font-size="9" text-anchor="middle" fill="#000" stroke="#000" stroke-width="0.18">-</text>
<text x="617.70" y="648.10" font-size="9" text-anchor="middle" fill="#000" stroke="#000" stroke-width="0.18">-</text>
<text x="640.30" y="647.80" font-size="9" text-anchor="middle" fill="#000" stroke="#000" stroke-width="0.18">+</text>
<text x="0.00" y="0.00" font-size="9.5" text-anchor="middle" fill="#000" stroke="#000" stroke-width="0.18" transform="translate(35.00,573.60) rotate(-90)">Fold change</text>
<text x="0.00" y="0.00" font-size="9.5" text-anchor="middle" fill="#000" stroke="#000" stroke-width="0.18" transform="translate(46.50,573.60) rotate(-90)">(treated:Ctrl)</text>
<text x="0.00" y="0.00" font-size="9.2" text-anchor="middle" fill="#000" stroke="#000" stroke-width="0.18" transform="translate(192.10,576.00) rotate(-90)">Fold change</text>
<text x="0.00" y="0.00" font-size="9.2" text-anchor="middle" fill="#000" stroke="#000" stroke-width="0.18" transform="translate(204.60,576.00) rotate(-90)">(treated:Ctrl)</text>
<text x="0.00" y="0.00" font-size="9.2" text-anchor="middle" fill="#000" stroke="#000" stroke-width="0.18" transform="translate(353.80,574.70) rotate(-90)">Fold change</text>
<text x="0.00" y="0.00" font-size="9.2" text-anchor="middle" fill="#000" stroke="#000" stroke-width="0.18" transform="translate(366.30,574.70) rotate(-90)">(treated:Ctrl)</text>
<text x="0.00" y="0.00" font-size="9.2" text-anchor="middle" fill="#000" stroke="#000" stroke-width="0.18" transform="translate(524.40,575.80) rotate(-90)">Fold change</text>
<text x="0.00" y="0.00" font-size="9.2" text-anchor="middle" fill="#000" stroke="#000" stroke-width="0.18" transform="translate(536.40,575.80) rotate(-90)">(treated:Ctrl)</text>
<circle cx="591.40" cy="614.10" r="1.75" fill="#2f7f8f" stroke="#1f5f6f" stroke-width="0.8"/>
<circle cx="595.80" cy="614.60" r="1.75" fill="#2f7f8f" stroke="#1f5f6f" stroke-width="0.8"/>
<circle cx="600.10" cy="614.10" r="1.75" fill="#2f7f8f" stroke="#1f5f6f" stroke-width="0.8"/>
</svg></body></html>
